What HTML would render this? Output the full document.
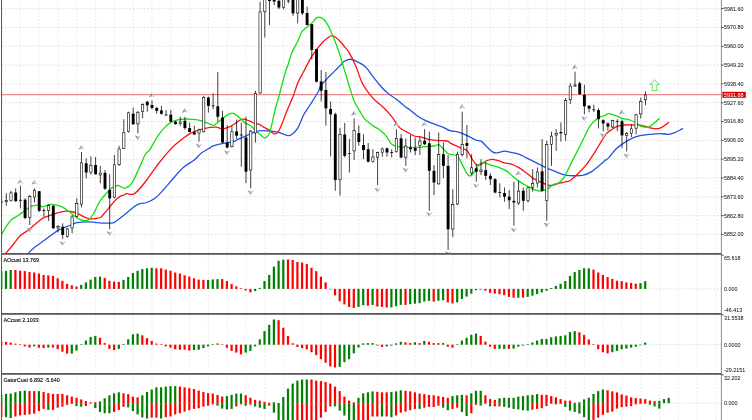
<!DOCTYPE html>
<html><head><meta charset="utf-8"><title>Chart</title>
<style>html,body{margin:0;padding:0;background:#fff;}body{width:752px;height:420px;overflow:hidden;}svg{display:block;}</style>
</head><body>
<svg width="752" height="420" viewBox="0 0 752 420">
<defs><clipPath id="cm2"><rect x="0.9" y="254.5" width="720.3" height="119"/></clipPath></defs>
<g stroke="#d8d8d8" stroke-width="0.7" stroke-dasharray="1.3 2.27" stroke-dashoffset="-0.3" fill="none"><line x1="20.40" y1="1.4" x2="20.40" y2="420"/><line x1="39.20" y1="1.4" x2="39.20" y2="420"/><line x1="58.00" y1="1.4" x2="58.00" y2="420"/><line x1="76.80" y1="1.4" x2="76.80" y2="420"/><line x1="95.60" y1="1.4" x2="95.60" y2="420"/><line x1="114.40" y1="1.4" x2="114.40" y2="420"/><line x1="133.20" y1="1.4" x2="133.20" y2="420"/><line x1="152.00" y1="1.4" x2="152.00" y2="420"/><line x1="170.80" y1="1.4" x2="170.80" y2="420"/><line x1="189.60" y1="1.4" x2="189.60" y2="420"/><line x1="208.40" y1="1.4" x2="208.40" y2="420"/><line x1="227.20" y1="1.4" x2="227.20" y2="420"/><line x1="246.00" y1="1.4" x2="246.00" y2="420"/><line x1="264.80" y1="1.4" x2="264.80" y2="420"/><line x1="283.60" y1="1.4" x2="283.60" y2="420"/><line x1="302.40" y1="1.4" x2="302.40" y2="420"/><line x1="321.20" y1="1.4" x2="321.20" y2="420"/><line x1="340.00" y1="1.4" x2="340.00" y2="420"/><line x1="358.80" y1="1.4" x2="358.80" y2="420"/><line x1="377.60" y1="1.4" x2="377.60" y2="420"/><line x1="396.40" y1="1.4" x2="396.40" y2="420"/><line x1="415.20" y1="1.4" x2="415.20" y2="420"/><line x1="434.00" y1="1.4" x2="434.00" y2="420"/><line x1="452.80" y1="1.4" x2="452.80" y2="420"/><line x1="471.60" y1="1.4" x2="471.60" y2="420"/><line x1="490.40" y1="1.4" x2="490.40" y2="420"/><line x1="509.20" y1="1.4" x2="509.20" y2="420"/><line x1="528.00" y1="1.4" x2="528.00" y2="420"/><line x1="546.80" y1="1.4" x2="546.80" y2="420"/><line x1="565.60" y1="1.4" x2="565.60" y2="420"/><line x1="584.40" y1="1.4" x2="584.40" y2="420"/><line x1="603.20" y1="1.4" x2="603.20" y2="420"/><line x1="622.00" y1="1.4" x2="622.00" y2="420"/><line x1="640.80" y1="1.4" x2="640.80" y2="420"/><line x1="659.60" y1="1.4" x2="659.60" y2="420"/><line x1="678.40" y1="1.4" x2="678.40" y2="420"/><line x1="697.20" y1="1.4" x2="697.20" y2="420"/><line x1="716.00" y1="1.4" x2="716.00" y2="420"/></g>
<g stroke="#d8d8d8" stroke-width="0.7" stroke-dasharray="2.1 1.46" fill="none"><line x1="1" y1="8.65" x2="721.4" y2="8.65"/><line x1="1" y1="27.47" x2="721.4" y2="27.47"/><line x1="1" y1="46.28" x2="721.4" y2="46.28"/><line x1="1" y1="65.10" x2="721.4" y2="65.10"/><line x1="1" y1="83.91" x2="721.4" y2="83.91"/><line x1="1" y1="102.73" x2="721.4" y2="102.73"/><line x1="1" y1="121.54" x2="721.4" y2="121.54"/><line x1="1" y1="140.36" x2="721.4" y2="140.36"/><line x1="1" y1="159.17" x2="721.4" y2="159.17"/><line x1="1" y1="177.99" x2="721.4" y2="177.99"/><line x1="1" y1="196.80" x2="721.4" y2="196.80"/><line x1="1" y1="215.62" x2="721.4" y2="215.62"/><line x1="1" y1="234.43" x2="721.4" y2="234.43"/><line x1="1" y1="288.90" x2="721.4" y2="288.90"/><line x1="1" y1="344.70" x2="721.4" y2="344.70"/><line x1="1" y1="403.20" x2="721.4" y2="403.20"/></g>
<defs><clipPath id="cm"><rect x="1.8" y="0" width="719.4" height="253"/></clipPath><clipPath id="cg"><rect x="0.9" y="374.3" width="720.3" height="50"/></clipPath></defs>
<g clip-path="url(#cm)">
<line x1="2" y1="94.7" x2="721.4" y2="94.7" stroke="#e63c3c" stroke-width="0.75"/>
<path d="M28.50,253.00 C29.58,252.00 32.28,249.17 35.00,247.00 C37.72,244.83 41.98,242.07 44.80,240.00 C47.62,237.93 49.53,236.28 51.90,234.60 C54.27,232.92 56.62,231.18 59.00,229.90 C61.38,228.62 64.02,227.80 66.20,226.90 C68.38,226.00 70.32,225.20 72.10,224.50 C73.88,223.80 74.32,223.13 76.90,222.70 C79.48,222.27 84.58,221.97 87.60,221.90 C90.62,221.83 92.70,222.10 95.00,222.30 C97.30,222.50 98.90,222.97 101.40,223.10 C103.90,223.23 107.85,223.23 110.00,223.10 C112.15,222.97 112.70,223.05 114.30,222.30 C115.90,221.55 117.82,219.93 119.60,218.60 C121.38,217.27 123.27,215.73 125.00,214.30 C126.73,212.87 127.78,211.68 130.00,210.00 C132.22,208.32 135.52,205.45 138.30,204.20 C141.08,202.95 143.92,203.48 146.70,202.50 C149.48,201.52 152.23,200.38 155.00,198.30 C157.77,196.22 160.25,193.33 163.30,190.00 C166.35,186.67 169.97,182.05 173.30,178.30 C176.63,174.55 179.80,170.55 183.30,167.50 C186.80,164.45 191.28,162.43 194.30,160.00 C197.32,157.57 198.78,154.92 201.40,152.90 C204.02,150.88 208.02,149.08 210.00,147.90 C211.98,146.72 211.08,146.57 213.30,145.80 C215.52,145.03 219.97,143.98 223.30,143.30 C226.63,142.62 230.80,142.38 233.30,141.70 C235.80,141.02 236.35,140.08 238.30,139.20 C240.25,138.32 242.93,137.33 245.00,136.40 C247.07,135.47 248.80,134.43 250.70,133.60 C252.60,132.77 254.50,131.88 256.40,131.40 C258.30,130.92 259.95,130.77 262.10,130.70 C264.25,130.63 266.92,130.80 269.30,131.00 C271.68,131.20 274.27,131.47 276.40,131.90 C278.53,132.33 280.18,132.97 282.10,133.60 C284.02,134.23 286.23,135.58 287.90,135.70 C289.57,135.82 290.43,135.60 292.10,134.30 C293.77,133.00 295.98,131.12 297.90,127.90 C299.82,124.68 301.58,118.82 303.60,115.00 C305.62,111.18 307.55,108.88 310.00,105.00 C312.45,101.12 316.63,94.68 318.30,91.70 C319.97,88.72 318.53,89.28 320.00,87.10 C321.47,84.92 324.72,81.22 327.10,78.60 C329.48,75.98 331.92,73.78 334.30,71.40 C336.68,69.02 339.78,65.95 341.40,64.30 C343.02,62.65 342.68,62.33 344.00,61.50 C345.32,60.67 347.63,59.52 349.30,59.30 C350.97,59.08 351.38,59.02 354.00,60.20 C356.62,61.38 362.22,64.17 365.00,66.40 C367.78,68.63 368.55,70.85 370.70,73.60 C372.85,76.35 375.28,79.82 377.90,82.90 C380.52,85.98 383.32,89.37 386.40,92.10 C389.48,94.83 393.30,96.92 396.40,99.30 C399.50,101.68 402.73,104.62 405.00,106.40 C407.27,108.18 407.98,108.45 410.00,110.00 C412.02,111.55 414.48,113.92 417.10,115.70 C419.72,117.48 423.07,119.38 425.70,120.70 C428.33,122.02 430.03,122.53 432.90,123.60 C435.77,124.67 440.05,125.92 442.90,127.10 C445.75,128.28 447.38,129.87 450.00,130.70 C452.62,131.53 455.75,131.27 458.60,132.10 C461.45,132.93 464.25,134.38 467.10,135.70 C469.95,137.02 473.32,139.05 475.70,140.00 C478.08,140.95 479.50,140.22 481.40,141.40 C483.30,142.58 485.18,145.32 487.10,147.10 C489.02,148.88 491.23,151.13 492.90,152.10 C494.57,153.07 495.20,153.07 497.10,152.90 C499.00,152.73 502.15,151.23 504.30,151.10 C506.45,150.97 508.70,151.85 510.00,152.10 C511.30,152.35 510.55,152.23 512.10,152.60 C513.65,152.97 516.92,153.42 519.30,154.30 C521.68,155.18 524.02,156.72 526.40,157.90 C528.78,159.08 531.22,160.22 533.60,161.40 C535.98,162.58 538.32,163.80 540.70,165.00 C543.08,166.20 545.52,167.53 547.90,168.60 C550.28,169.67 552.55,170.43 555.00,171.40 C557.45,172.37 560.07,173.68 562.60,174.40 C565.13,175.12 566.70,175.58 570.20,175.70 C573.70,175.82 580.10,175.73 583.60,175.10 C587.10,174.47 588.35,173.70 591.20,171.90 C594.05,170.10 598.40,166.20 600.70,164.30 C603.00,162.40 603.68,161.57 605.00,160.50 C606.32,159.43 606.82,159.77 608.60,157.90 C610.38,156.03 613.32,151.68 615.70,149.30 C618.08,146.92 620.28,145.38 622.90,143.60 C625.52,141.82 628.55,139.92 631.40,138.60 C634.25,137.28 636.90,136.42 640.00,135.70 C643.10,134.98 646.67,134.65 650.00,134.30 C653.33,133.95 656.90,133.60 660.00,133.60 C663.10,133.60 666.22,134.42 668.60,134.30 C670.98,134.18 672.40,133.62 674.30,132.90 C676.20,132.18 678.63,130.70 680.00,130.00 C681.37,129.30 682.08,128.92 682.50,128.70" fill="none" stroke="#1f55e0" stroke-width="1.3" stroke-linejoin="round" stroke-linecap="round"/>
<path d="M6.00,253.00 C7.00,251.83 9.67,248.83 12.00,246.00 C14.33,243.17 17.23,238.67 20.00,236.00 C22.77,233.33 26.38,231.70 28.60,230.00 C30.82,228.30 31.72,227.18 33.30,225.80 C34.88,224.42 36.50,222.98 38.10,221.70 C39.70,220.42 41.32,219.00 42.90,218.10 C44.48,217.20 45.70,217.02 47.60,216.30 C49.50,215.58 52.00,214.55 54.30,213.80 C56.60,213.05 59.22,212.23 61.40,211.80 C63.58,211.37 65.42,211.17 67.40,211.20 C69.38,211.23 71.32,211.47 73.30,212.00 C75.28,212.53 77.32,213.50 79.30,214.40 C81.28,215.30 83.42,216.67 85.20,217.40 C86.98,218.13 88.37,218.60 90.00,218.80 C91.63,219.00 93.27,218.82 95.00,218.60 C96.73,218.38 98.97,218.22 100.40,217.50 C101.83,216.78 102.18,215.90 103.60,214.30 C105.02,212.70 107.12,210.05 108.90,207.90 C110.68,205.75 112.52,203.28 114.30,201.40 C116.08,199.52 117.98,197.67 119.60,196.60 C121.22,195.53 122.82,195.48 124.00,195.00 C125.18,194.52 125.15,193.83 126.70,193.70 C128.25,193.57 131.08,195.10 133.30,194.20 C135.52,193.30 137.77,190.67 140.00,188.30 C142.23,185.93 144.20,183.33 146.70,180.00 C149.20,176.67 152.55,171.63 155.00,168.30 C157.45,164.97 159.13,162.82 161.40,160.00 C163.67,157.18 166.22,154.02 168.60,151.40 C170.98,148.78 173.32,146.43 175.70,144.30 C178.08,142.17 180.52,140.38 182.90,138.60 C185.28,136.82 187.63,134.92 190.00,133.60 C192.37,132.28 194.72,131.53 197.10,130.70 C199.48,129.87 202.15,129.15 204.30,128.60 C206.45,128.05 208.05,127.65 210.00,127.40 C211.95,127.15 213.93,126.87 216.00,127.10 C218.07,127.33 220.25,128.80 222.40,128.80 C224.55,128.80 226.75,128.00 228.90,127.10 C231.05,126.20 233.52,124.55 235.30,123.40 C237.08,122.25 238.35,120.92 239.60,120.20 C240.85,119.48 241.90,119.25 242.80,119.10 C243.70,118.95 243.68,118.92 245.00,119.30 C246.32,119.68 249.03,120.68 250.70,121.40 C252.37,122.12 253.57,123.12 255.00,123.60 C256.43,124.08 257.87,123.72 259.30,124.30 C260.73,124.88 261.93,126.15 263.60,127.10 C265.27,128.05 267.63,128.92 269.30,130.00 C270.97,131.08 272.17,133.20 273.60,133.60 C275.03,134.00 276.48,134.07 277.90,132.40 C279.32,130.73 280.68,126.98 282.10,123.60 C283.52,120.22 284.97,115.68 286.40,112.10 C287.83,108.52 289.50,104.95 290.70,102.10 C291.90,99.25 292.33,98.40 293.60,95.00 C294.87,91.60 296.57,85.70 298.30,81.70 C300.03,77.70 301.77,75.17 304.00,71.00 C306.23,66.83 308.75,61.32 311.70,56.70 C314.65,52.08 318.93,46.50 321.70,43.30 C324.47,40.10 326.37,38.75 328.30,37.50 C330.23,36.25 331.48,35.30 333.30,35.80 C335.12,36.30 337.42,38.80 339.20,40.50 C340.98,42.20 342.32,43.95 344.00,46.00 C345.68,48.05 347.35,49.52 349.30,52.80 C351.25,56.08 353.57,60.70 355.70,65.70 C357.83,70.70 359.60,77.80 362.10,82.80 C364.60,87.80 368.20,92.48 370.70,95.70 C373.20,98.92 374.97,100.13 377.10,102.10 C379.23,104.07 381.00,105.00 383.50,107.50 C386.00,110.00 389.35,113.70 392.10,117.10 C394.85,120.50 397.50,125.40 400.00,127.90 C402.50,130.40 404.72,130.75 407.10,132.10 C409.48,133.45 411.92,135.17 414.30,136.00 C416.68,136.83 419.02,136.55 421.40,137.10 C423.78,137.65 426.22,138.77 428.60,139.30 C430.98,139.83 433.32,140.07 435.70,140.30 C438.08,140.53 440.75,140.52 442.90,140.70 C445.05,140.88 447.42,141.03 448.60,141.40 C449.78,141.77 448.82,142.18 450.00,142.90 C451.18,143.62 453.80,144.80 455.70,145.70 C457.60,146.60 459.50,147.47 461.40,148.30 C463.30,149.13 465.43,149.10 467.10,150.70 C468.77,152.30 469.97,155.68 471.40,157.90 C472.83,160.12 474.27,162.82 475.70,164.00 C477.13,165.18 478.57,165.32 480.00,165.00 C481.43,164.68 482.87,162.93 484.30,162.10 C485.73,161.27 487.17,160.47 488.60,160.00 C490.03,159.53 491.23,159.18 492.90,159.30 C494.57,159.42 496.70,160.10 498.60,160.70 C500.50,161.30 502.05,162.30 504.30,162.90 C506.55,163.50 509.60,163.47 512.10,164.30 C514.60,165.13 516.92,166.47 519.30,167.90 C521.68,169.33 524.02,171.12 526.40,172.90 C528.78,174.68 531.22,177.07 533.60,178.60 C535.98,180.13 538.32,181.03 540.70,182.10 C543.08,183.17 546.00,184.45 547.90,185.00 C549.80,185.55 550.43,185.63 552.10,185.40 C553.77,185.17 556.00,184.12 557.90,183.60 C559.80,183.08 561.45,182.82 563.50,182.30 C565.55,181.78 567.80,181.92 570.20,180.50 C572.60,179.08 575.03,176.67 577.90,173.80 C580.77,170.93 584.55,166.95 587.40,163.30 C590.25,159.65 592.78,155.38 595.00,151.90 C597.22,148.42 599.03,145.10 600.70,142.40 C602.37,139.70 603.93,137.28 605.00,135.70 C606.07,134.12 605.08,134.45 607.10,132.90 C609.12,131.35 614.00,127.72 617.10,126.40 C620.20,125.08 622.37,125.23 625.70,125.00 C629.03,124.77 634.00,124.82 637.10,125.00 C640.20,125.18 641.92,125.58 644.30,126.10 C646.68,126.62 649.02,127.68 651.40,128.10 C653.78,128.52 656.45,129.00 658.60,128.60 C660.75,128.20 662.63,126.73 664.30,125.70 C665.97,124.67 667.88,122.95 668.60,122.40" fill="none" stroke="#ff1010" stroke-width="1.3" stroke-linejoin="round" stroke-linecap="round"/>
<path d="M0.00,237.00 C0.70,235.83 3.02,231.97 4.20,230.00 C5.38,228.03 5.82,226.98 7.10,225.20 C8.38,223.42 10.10,220.88 11.90,219.30 C13.70,217.72 15.92,217.00 17.90,215.70 C19.88,214.40 22.02,212.78 23.80,211.50 C25.58,210.22 27.02,208.98 28.60,208.00 C30.18,207.02 31.72,206.07 33.30,205.60 C34.88,205.13 36.50,205.00 38.10,205.20 C39.70,205.40 41.52,206.73 42.90,206.80 C44.28,206.87 45.22,206.00 46.40,205.60 C47.58,205.20 48.48,204.52 50.00,204.40 C51.52,204.28 53.60,204.52 55.50,204.90 C57.40,205.28 59.42,205.82 61.40,206.70 C63.38,207.58 65.42,208.82 67.40,210.20 C69.38,211.58 71.32,213.50 73.30,215.00 C75.28,216.50 77.32,218.25 79.30,219.20 C81.28,220.15 83.42,220.80 85.20,220.70 C86.98,220.60 88.40,220.15 90.00,218.60 C91.60,217.05 93.22,214.18 94.80,211.40 C96.38,208.62 97.80,204.63 99.50,201.90 C101.20,199.17 102.97,197.32 105.00,195.00 C107.03,192.68 109.62,189.58 111.70,188.00 C113.78,186.42 116.12,185.78 117.50,185.50 C118.88,185.22 118.75,185.83 120.00,186.30 C121.25,186.77 123.05,188.80 125.00,188.30 C126.95,187.80 129.48,186.35 131.70,183.30 C133.92,180.25 136.08,174.72 138.30,170.00 C140.52,165.28 143.05,158.45 145.00,155.00 C146.95,151.55 147.98,152.28 150.00,149.30 C152.02,146.32 154.72,140.67 157.10,137.10 C159.48,133.53 161.92,130.40 164.30,127.90 C166.68,125.40 169.02,123.47 171.40,122.10 C173.78,120.73 176.22,120.22 178.60,119.70 C180.98,119.18 183.32,119.07 185.70,119.00 C188.08,118.93 190.52,119.08 192.90,119.30 C195.28,119.52 197.63,119.70 200.00,120.30 C202.37,120.90 204.88,122.07 207.10,122.90 C209.32,123.73 211.82,125.13 213.30,125.30 C214.78,125.47 214.65,124.85 216.00,123.90 C217.35,122.95 219.62,121.02 221.40,119.60 C223.18,118.18 224.92,116.47 226.70,115.40 C228.48,114.33 230.32,113.12 232.10,113.20 C233.88,113.28 235.80,114.83 237.40,115.90 C239.00,116.97 240.43,118.43 241.70,119.60 C242.97,120.77 243.50,121.88 245.00,122.90 C246.50,123.92 248.80,124.28 250.70,125.70 C252.60,127.12 254.73,129.85 256.40,131.40 C258.07,132.95 259.60,134.03 260.70,135.00 C261.80,135.97 262.40,136.72 263.00,137.20 C263.60,137.68 263.83,137.87 264.30,137.90 C264.77,137.93 265.08,137.88 265.80,137.40 C266.52,136.92 267.78,136.35 268.60,135.00 C269.42,133.65 269.87,132.40 270.70,129.30 C271.53,126.20 272.65,120.45 273.60,116.40 C274.55,112.35 275.45,108.57 276.40,105.00 C277.35,101.43 277.87,100.28 279.30,95.00 C280.73,89.72 283.55,78.30 285.00,73.30 C286.45,68.30 286.88,68.33 288.00,65.00 C289.12,61.67 289.98,57.47 291.70,53.30 C293.42,49.13 296.63,43.55 298.30,40.00 C299.97,36.45 300.18,34.22 301.70,32.00 C303.22,29.78 305.67,28.22 307.40,26.70 C309.13,25.18 310.52,24.42 312.10,22.90 C313.68,21.38 315.42,18.48 316.90,17.60 C318.38,16.72 319.52,16.92 321.00,17.60 C322.48,18.28 324.02,19.08 325.80,21.70 C327.58,24.32 329.62,28.58 331.70,33.30 C333.78,38.02 336.68,45.55 338.30,50.00 C339.92,54.45 340.17,55.95 341.40,60.00 C342.63,64.05 344.27,69.53 345.70,74.30 C347.13,79.07 348.57,84.08 350.00,88.60 C351.43,93.12 352.63,97.60 354.30,101.40 C355.97,105.20 358.33,108.53 360.00,111.40 C361.67,114.27 362.75,116.68 364.30,118.60 C365.85,120.52 367.52,121.48 369.30,122.90 C371.08,124.32 373.22,125.92 375.00,127.10 C376.78,128.28 378.05,128.40 380.00,130.00 C381.95,131.60 384.75,134.33 386.70,136.70 C388.65,139.07 389.48,142.50 391.70,144.20 C393.92,145.90 397.43,146.37 400.00,146.90 C402.57,147.43 404.72,147.32 407.10,147.40 C409.48,147.48 411.92,147.45 414.30,147.40 C416.68,147.35 419.02,147.27 421.40,147.10 C423.78,146.93 426.45,146.58 428.60,146.40 C430.75,146.22 432.63,146.30 434.30,146.00 C435.97,145.70 437.17,144.17 438.60,144.60 C440.03,145.03 441.48,147.22 442.90,148.60 C444.32,149.98 445.92,151.95 447.10,152.90 C448.28,153.85 448.33,153.83 450.00,154.30 C451.67,154.77 455.20,154.27 457.10,155.70 C459.00,157.13 459.97,160.28 461.40,162.90 C462.83,165.52 464.50,169.32 465.70,171.40 C466.90,173.48 467.65,174.73 468.60,175.40 C469.55,176.07 470.33,176.18 471.40,175.40 C472.47,174.62 473.80,172.43 475.00,170.70 C476.20,168.97 477.28,166.35 478.60,165.00 C479.92,163.65 481.48,162.83 482.90,162.60 C484.32,162.37 485.43,163.08 487.10,163.60 C488.77,164.12 490.75,164.98 492.90,165.70 C495.05,166.42 497.63,166.95 500.00,167.90 C502.37,168.85 505.08,170.10 507.10,171.40 C509.12,172.70 510.07,174.03 512.10,175.70 C514.13,177.37 516.92,179.73 519.30,181.40 C521.68,183.07 524.02,184.38 526.40,185.70 C528.78,187.02 531.22,188.40 533.60,189.30 C535.98,190.20 538.32,191.22 540.70,191.10 C543.08,190.98 545.75,189.73 547.90,188.60 C550.05,187.47 551.70,185.30 553.60,184.30 C555.50,183.30 557.48,183.87 559.30,182.60 C561.12,181.33 562.83,179.28 564.50,176.70 C566.17,174.12 567.72,170.28 569.30,167.10 C570.88,163.92 572.25,161.08 574.00,157.60 C575.75,154.12 578.05,149.68 579.80,146.20 C581.55,142.72 582.92,139.88 584.50,136.70 C586.08,133.52 587.55,129.80 589.30,127.10 C591.05,124.40 593.10,122.23 595.00,120.50 C596.90,118.77 599.03,117.57 600.70,116.70 C602.37,115.83 603.68,115.82 605.00,115.30 C606.32,114.78 606.82,113.53 608.60,113.60 C610.38,113.67 613.32,114.87 615.70,115.70 C618.08,116.53 620.52,117.88 622.90,118.60 C625.28,119.32 627.63,119.17 630.00,120.00 C632.37,120.83 635.20,122.53 637.10,123.60 C639.00,124.67 639.48,125.82 641.40,126.40 C643.32,126.98 646.45,127.68 648.60,127.10 C650.75,126.52 652.52,124.32 654.30,122.90 C656.08,121.48 658.47,119.32 659.30,118.60" fill="none" stroke="#10e010" stroke-width="1.3" stroke-linejoin="round" stroke-linecap="round"/>
<line x1="1.60" y1="199.0" x2="1.60" y2="206.0" stroke="#000" stroke-width="0.75"/><line x1="0.15" y1="202.0" x2="3.05" y2="202.0" stroke="#000" stroke-width="0.8"/><line x1="6.30" y1="193.3" x2="6.30" y2="205.8" stroke="#000" stroke-width="0.75"/><rect x="5.15" y="200.30" width="2.30" height="1.40" fill="#fff" stroke="#000" stroke-width="0.6"/><line x1="11.00" y1="190.8" x2="11.00" y2="201.5" stroke="#000" stroke-width="0.75"/><rect x="9.85" y="192.80" width="2.30" height="7.70" fill="#fff" stroke="#000" stroke-width="0.6"/><line x1="15.70" y1="188.3" x2="15.70" y2="201.7" stroke="#000" stroke-width="0.75"/><rect x="14.25" y="192.5" width="2.9" height="8.80" fill="#000"/><line x1="20.40" y1="185.8" x2="20.40" y2="208.3" stroke="#000" stroke-width="0.75"/><line x1="18.95" y1="200.3" x2="21.85" y2="200.3" stroke="#000" stroke-width="0.8"/><line x1="25.10" y1="198.3" x2="25.10" y2="219.2" stroke="#000" stroke-width="0.75"/><rect x="23.65" y="199.7" width="2.9" height="18.30" fill="#000"/><line x1="29.80" y1="195.0" x2="29.80" y2="225.0" stroke="#000" stroke-width="0.75"/><rect x="28.65" y="196.60" width="2.30" height="20.60" fill="#fff" stroke="#000" stroke-width="0.6"/><line x1="34.50" y1="188.3" x2="34.50" y2="202.5" stroke="#000" stroke-width="0.75"/><rect x="33.35" y="190.30" width="2.30" height="6.90" fill="#fff" stroke="#000" stroke-width="0.6"/><line x1="39.20" y1="190.8" x2="39.20" y2="212.0" stroke="#000" stroke-width="0.75"/><rect x="37.75" y="191.2" width="2.9" height="19.60" fill="#000"/><line x1="43.90" y1="208.3" x2="43.90" y2="216.7" stroke="#000" stroke-width="0.75"/><line x1="42.45" y1="210.5" x2="45.35" y2="210.5" stroke="#000" stroke-width="0.8"/><line x1="48.60" y1="204.2" x2="48.60" y2="220.8" stroke="#000" stroke-width="0.75"/><rect x="47.45" y="205.30" width="2.30" height="5.20" fill="#fff" stroke="#000" stroke-width="0.6"/><line x1="53.30" y1="205.0" x2="53.30" y2="228.7" stroke="#000" stroke-width="0.75"/><rect x="51.85" y="205.8" width="2.9" height="22.50" fill="#000"/><line x1="58.00" y1="225.0" x2="58.00" y2="232.5" stroke="#000" stroke-width="0.75"/><rect x="56.85" y="226.60" width="2.30" height="1.40" fill="#fff" stroke="#000" stroke-width="0.6"/><line x1="62.70" y1="223.3" x2="62.70" y2="239.2" stroke="#000" stroke-width="0.75"/><rect x="61.25" y="226.7" width="2.9" height="8.30" fill="#000"/><line x1="67.40" y1="228.0" x2="67.40" y2="237.5" stroke="#000" stroke-width="0.75"/><rect x="66.25" y="229.00" width="2.30" height="7.40" fill="#fff" stroke="#000" stroke-width="0.6"/><line x1="72.10" y1="215.0" x2="72.10" y2="233.3" stroke="#000" stroke-width="0.75"/><rect x="70.95" y="217.00" width="2.30" height="11.00" fill="#fff" stroke="#000" stroke-width="0.6"/><line x1="76.80" y1="198.3" x2="76.80" y2="217.5" stroke="#000" stroke-width="0.75"/><rect x="75.65" y="203.60" width="2.30" height="12.60" fill="#fff" stroke="#000" stroke-width="0.6"/><line x1="81.50" y1="152.0" x2="81.50" y2="207.5" stroke="#000" stroke-width="0.75"/><rect x="80.35" y="162.80" width="2.30" height="41.40" fill="#fff" stroke="#000" stroke-width="0.6"/><line x1="86.20" y1="158.3" x2="86.20" y2="178.3" stroke="#000" stroke-width="0.75"/><rect x="84.75" y="163.3" width="2.9" height="9.20" fill="#000"/><line x1="90.90" y1="156.3" x2="90.90" y2="174.7" stroke="#000" stroke-width="0.75"/><rect x="89.75" y="165.60" width="2.30" height="6.60" fill="#fff" stroke="#000" stroke-width="0.6"/><line x1="95.60" y1="157.0" x2="95.60" y2="174.7" stroke="#000" stroke-width="0.75"/><rect x="94.15" y="165.0" width="2.9" height="9.20" fill="#000"/><line x1="100.30" y1="165.8" x2="100.30" y2="183.3" stroke="#000" stroke-width="0.75"/><rect x="99.15" y="173.10" width="2.30" height="1.90" fill="#fff" stroke="#000" stroke-width="0.6"/><line x1="105.00" y1="170.0" x2="105.00" y2="190.0" stroke="#000" stroke-width="0.75"/><rect x="103.55" y="172.8" width="2.9" height="15.90" fill="#000"/><line x1="109.70" y1="174.2" x2="109.70" y2="229.2" stroke="#000" stroke-width="0.75"/><rect x="108.25" y="190.0" width="2.9" height="8.30" fill="#000"/><line x1="114.40" y1="155.0" x2="114.40" y2="198.3" stroke="#000" stroke-width="0.75"/><rect x="113.25" y="164.80" width="2.30" height="32.40" fill="#fff" stroke="#000" stroke-width="0.6"/><line x1="119.10" y1="145.8" x2="119.10" y2="166.0" stroke="#000" stroke-width="0.75"/><rect x="117.95" y="149.00" width="2.30" height="15.70" fill="#fff" stroke="#000" stroke-width="0.6"/><line x1="123.80" y1="119.2" x2="123.80" y2="149.0" stroke="#000" stroke-width="0.75"/><rect x="122.65" y="132.80" width="2.30" height="15.60" fill="#fff" stroke="#000" stroke-width="0.6"/><line x1="128.50" y1="111.7" x2="128.50" y2="132.5" stroke="#000" stroke-width="0.75"/><rect x="127.35" y="112.80" width="2.30" height="18.60" fill="#fff" stroke="#000" stroke-width="0.6"/><line x1="133.20" y1="107.5" x2="133.20" y2="125.0" stroke="#000" stroke-width="0.75"/><rect x="131.75" y="113.7" width="2.9" height="10.50" fill="#000"/><line x1="137.90" y1="110.8" x2="137.90" y2="133.3" stroke="#000" stroke-width="0.75"/><rect x="136.75" y="112.30" width="2.30" height="11.60" fill="#fff" stroke="#000" stroke-width="0.6"/><line x1="142.60" y1="103.3" x2="142.60" y2="118.3" stroke="#000" stroke-width="0.75"/><rect x="141.45" y="104.50" width="2.30" height="6.90" fill="#fff" stroke="#000" stroke-width="0.6"/><line x1="147.30" y1="100.8" x2="147.30" y2="111.7" stroke="#000" stroke-width="0.75"/><rect x="145.85" y="101.7" width="2.9" height="3.60" fill="#000"/><line x1="152.00" y1="100.3" x2="152.00" y2="109.2" stroke="#000" stroke-width="0.75"/><rect x="150.55" y="105.0" width="2.9" height="3.00" fill="#000"/><line x1="156.70" y1="106.7" x2="156.70" y2="113.7" stroke="#000" stroke-width="0.75"/><rect x="155.25" y="108.0" width="2.9" height="2.80" fill="#000"/><line x1="161.40" y1="105.8" x2="161.40" y2="114.7" stroke="#000" stroke-width="0.75"/><rect x="159.95" y="110.5" width="2.9" height="3.20" fill="#000"/><line x1="166.10" y1="110.0" x2="166.10" y2="115.8" stroke="#000" stroke-width="0.75"/><line x1="164.65" y1="115.0" x2="167.55" y2="115.0" stroke="#000" stroke-width="0.8"/><line x1="170.80" y1="110.0" x2="170.80" y2="122.0" stroke="#000" stroke-width="0.75"/><rect x="169.35" y="114.7" width="2.9" height="7.00" fill="#000"/><line x1="175.50" y1="120.8" x2="175.50" y2="124.7" stroke="#000" stroke-width="0.75"/><rect x="174.05" y="121.7" width="2.9" height="2.50" fill="#000"/><line x1="180.20" y1="116.7" x2="180.20" y2="125.8" stroke="#000" stroke-width="0.75"/><rect x="179.05" y="122.00" width="2.30" height="1.40" fill="#fff" stroke="#000" stroke-width="0.6"/><line x1="184.90" y1="116.7" x2="184.90" y2="129.7" stroke="#000" stroke-width="0.75"/><rect x="183.45" y="120.8" width="2.9" height="7.20" fill="#000"/><line x1="189.60" y1="122.5" x2="189.60" y2="132.5" stroke="#000" stroke-width="0.75"/><rect x="188.15" y="128.0" width="2.9" height="4.00" fill="#000"/><line x1="194.30" y1="125.8" x2="194.30" y2="135.0" stroke="#000" stroke-width="0.75"/><rect x="192.85" y="132.2" width="2.9" height="2.30" fill="#000"/><line x1="199.00" y1="128.7" x2="199.00" y2="141.7" stroke="#000" stroke-width="0.75"/><rect x="197.85" y="130.00" width="2.30" height="3.00" fill="#fff" stroke="#000" stroke-width="0.6"/><line x1="203.70" y1="95.8" x2="203.70" y2="132.5" stroke="#000" stroke-width="0.75"/><rect x="202.55" y="97.30" width="2.30" height="34.10" fill="#fff" stroke="#000" stroke-width="0.6"/><line x1="208.40" y1="96.5" x2="208.40" y2="112.5" stroke="#000" stroke-width="0.75"/><rect x="206.95" y="97.5" width="2.9" height="8.30" fill="#000"/><line x1="213.10" y1="93.3" x2="213.10" y2="109.2" stroke="#000" stroke-width="0.75"/><line x1="211.65" y1="105.8" x2="214.55" y2="105.8" stroke="#000" stroke-width="0.8"/><line x1="217.80" y1="72.0" x2="217.80" y2="121.7" stroke="#000" stroke-width="0.75"/><rect x="216.35" y="106.3" width="2.9" height="10.40" fill="#000"/><line x1="222.50" y1="110.8" x2="222.50" y2="143.3" stroke="#000" stroke-width="0.75"/><rect x="221.05" y="117.5" width="2.9" height="25.00" fill="#000"/><line x1="227.20" y1="125.0" x2="227.20" y2="148.3" stroke="#000" stroke-width="0.75"/><rect x="225.75" y="142.5" width="2.9" height="5.00" fill="#000"/><line x1="231.90" y1="126.0" x2="231.90" y2="147.5" stroke="#000" stroke-width="0.75"/><rect x="230.75" y="131.70" width="2.30" height="15.00" fill="#fff" stroke="#000" stroke-width="0.6"/><line x1="236.60" y1="119.6" x2="236.60" y2="138.9" stroke="#000" stroke-width="0.75"/><rect x="235.15" y="131.4" width="2.9" height="4.30" fill="#000"/><line x1="241.30" y1="122.5" x2="241.30" y2="166.7" stroke="#000" stroke-width="0.75"/><line x1="239.85" y1="135.0" x2="242.75" y2="135.0" stroke="#000" stroke-width="0.8"/><line x1="246.00" y1="116.7" x2="246.00" y2="183.3" stroke="#000" stroke-width="0.75"/><rect x="244.55" y="137.5" width="2.9" height="34.20" fill="#000"/><line x1="250.70" y1="130.0" x2="250.70" y2="188.3" stroke="#000" stroke-width="0.75"/><rect x="249.55" y="131.10" width="2.30" height="38.90" fill="#fff" stroke="#000" stroke-width="0.6"/><line x1="255.40" y1="90.8" x2="255.40" y2="142.5" stroke="#000" stroke-width="0.75"/><rect x="254.25" y="93.60" width="2.30" height="39.40" fill="#fff" stroke="#000" stroke-width="0.6"/><line x1="260.10" y1="1.7" x2="260.10" y2="93.7" stroke="#000" stroke-width="0.75"/><rect x="258.95" y="12.00" width="2.30" height="81.00" fill="#fff" stroke="#000" stroke-width="0.6"/><line x1="264.80" y1="-5.0" x2="264.80" y2="37.5" stroke="#000" stroke-width="0.75"/><rect x="263.65" y="-2.70" width="2.30" height="14.10" fill="#fff" stroke="#000" stroke-width="0.6"/><line x1="269.50" y1="-5.0" x2="269.50" y2="25.0" stroke="#000" stroke-width="0.75"/><rect x="268.05" y="-3.0" width="2.9" height="4.00" fill="#000"/><line x1="274.20" y1="-5.0" x2="274.20" y2="5.0" stroke="#000" stroke-width="0.75"/><rect x="272.75" y="-3.0" width="2.9" height="4.50" fill="#000"/><line x1="278.90" y1="-5.0" x2="278.90" y2="9.2" stroke="#000" stroke-width="0.75"/><rect x="277.45" y="0.8" width="2.9" height="6.70" fill="#000"/><line x1="283.60" y1="-5.0" x2="283.60" y2="9.2" stroke="#000" stroke-width="0.75"/><rect x="282.45" y="-1.70" width="2.30" height="8.90" fill="#fff" stroke="#000" stroke-width="0.6"/><line x1="288.30" y1="-5.0" x2="288.30" y2="3.3" stroke="#000" stroke-width="0.75"/><line x1="286.85" y1="1.0" x2="289.75" y2="1.0" stroke="#000" stroke-width="0.8"/><line x1="293.00" y1="-5.0" x2="293.00" y2="15.8" stroke="#000" stroke-width="0.75"/><rect x="291.55" y="-2.0" width="2.9" height="15.30" fill="#000"/><line x1="297.70" y1="-5.0" x2="297.70" y2="23.3" stroke="#000" stroke-width="0.75"/><rect x="296.55" y="-1.70" width="2.30" height="14.70" fill="#fff" stroke="#000" stroke-width="0.6"/><line x1="302.40" y1="-5.0" x2="302.40" y2="15.0" stroke="#000" stroke-width="0.75"/><rect x="300.95" y="-2.0" width="2.9" height="15.30" fill="#000"/><line x1="307.10" y1="6.7" x2="307.10" y2="25.0" stroke="#000" stroke-width="0.75"/><rect x="305.65" y="13.0" width="2.9" height="12.00" fill="#000"/><line x1="311.80" y1="24.0" x2="311.80" y2="59.2" stroke="#000" stroke-width="0.75"/><rect x="310.35" y="24.2" width="2.9" height="25.80" fill="#000"/><line x1="316.50" y1="49.0" x2="316.50" y2="82.5" stroke="#000" stroke-width="0.75"/><rect x="315.05" y="49.2" width="2.9" height="32.50" fill="#000"/><line x1="321.20" y1="70.0" x2="321.20" y2="101.4" stroke="#000" stroke-width="0.75"/><rect x="319.75" y="81.4" width="2.9" height="9.30" fill="#000"/><line x1="325.90" y1="72.0" x2="325.90" y2="125.7" stroke="#000" stroke-width="0.75"/><rect x="324.45" y="90.0" width="2.9" height="18.30" fill="#000"/><line x1="330.60" y1="101.4" x2="330.60" y2="156.4" stroke="#000" stroke-width="0.75"/><rect x="329.15" y="108.9" width="2.9" height="5.40" fill="#000"/><line x1="335.30" y1="112.6" x2="335.30" y2="190.8" stroke="#000" stroke-width="0.75"/><rect x="333.85" y="114.2" width="2.9" height="65.80" fill="#000"/><line x1="340.00" y1="127.9" x2="340.00" y2="195.5" stroke="#000" stroke-width="0.75"/><rect x="338.85" y="134.50" width="2.30" height="45.20" fill="#fff" stroke="#000" stroke-width="0.6"/><line x1="344.70" y1="122.9" x2="344.70" y2="157.3" stroke="#000" stroke-width="0.75"/><rect x="343.25" y="134.5" width="2.9" height="21.30" fill="#000"/><line x1="349.40" y1="138.9" x2="349.40" y2="172.5" stroke="#000" stroke-width="0.75"/><line x1="347.95" y1="153.6" x2="350.85" y2="153.6" stroke="#000" stroke-width="0.8"/><line x1="354.10" y1="118.6" x2="354.10" y2="160.0" stroke="#000" stroke-width="0.75"/><rect x="352.95" y="130.60" width="2.30" height="20.30" fill="#fff" stroke="#000" stroke-width="0.6"/><line x1="358.80" y1="125.5" x2="358.80" y2="145.7" stroke="#000" stroke-width="0.75"/><rect x="357.35" y="133.2" width="2.9" height="8.80" fill="#000"/><line x1="363.50" y1="134.2" x2="363.50" y2="159.2" stroke="#000" stroke-width="0.75"/><rect x="362.05" y="145.0" width="2.9" height="5.00" fill="#000"/><line x1="368.20" y1="142.9" x2="368.20" y2="162.5" stroke="#000" stroke-width="0.75"/><rect x="366.75" y="149.2" width="2.9" height="12.50" fill="#000"/><line x1="372.90" y1="149.2" x2="372.90" y2="162.5" stroke="#000" stroke-width="0.75"/><rect x="371.75" y="157.00" width="2.30" height="4.40" fill="#fff" stroke="#000" stroke-width="0.6"/><line x1="377.60" y1="151.7" x2="377.60" y2="185.0" stroke="#000" stroke-width="0.75"/><rect x="376.45" y="152.50" width="2.30" height="4.70" fill="#fff" stroke="#000" stroke-width="0.6"/><line x1="382.30" y1="147.5" x2="382.30" y2="156.7" stroke="#000" stroke-width="0.75"/><rect x="381.15" y="149.00" width="2.30" height="3.20" fill="#fff" stroke="#000" stroke-width="0.6"/><line x1="387.00" y1="147.5" x2="387.00" y2="156.7" stroke="#000" stroke-width="0.75"/><rect x="385.55" y="148.3" width="2.9" height="4.20" fill="#000"/><line x1="391.70" y1="149.2" x2="391.70" y2="157.5" stroke="#000" stroke-width="0.75"/><line x1="390.25" y1="152.5" x2="393.15" y2="152.5" stroke="#000" stroke-width="0.8"/><line x1="396.40" y1="129.2" x2="396.40" y2="152.5" stroke="#000" stroke-width="0.75"/><rect x="395.25" y="138.60" width="2.30" height="12.80" fill="#fff" stroke="#000" stroke-width="0.6"/><line x1="401.10" y1="134.2" x2="401.10" y2="158.3" stroke="#000" stroke-width="0.75"/><rect x="399.65" y="138.3" width="2.9" height="19.20" fill="#000"/><line x1="405.80" y1="138.3" x2="405.80" y2="165.8" stroke="#000" stroke-width="0.75"/><rect x="404.65" y="146.10" width="2.30" height="11.10" fill="#fff" stroke="#000" stroke-width="0.6"/><line x1="410.50" y1="135.0" x2="410.50" y2="152.5" stroke="#000" stroke-width="0.75"/><rect x="409.05" y="147.5" width="2.9" height="1.70" fill="#000"/><line x1="415.20" y1="137.5" x2="415.20" y2="155.0" stroke="#000" stroke-width="0.75"/><rect x="413.75" y="148.0" width="2.9" height="2.80" fill="#000"/><line x1="419.90" y1="136.7" x2="419.90" y2="155.0" stroke="#000" stroke-width="0.75"/><rect x="418.75" y="141.10" width="2.30" height="4.40" fill="#fff" stroke="#000" stroke-width="0.6"/><line x1="424.60" y1="129.2" x2="424.60" y2="145.0" stroke="#000" stroke-width="0.75"/><rect x="423.15" y="140.8" width="2.9" height="3.40" fill="#000"/><line x1="429.30" y1="131.7" x2="429.30" y2="210.7" stroke="#000" stroke-width="0.75"/><rect x="427.85" y="143.3" width="2.9" height="27.50" fill="#000"/><line x1="434.00" y1="165.0" x2="434.00" y2="195.0" stroke="#000" stroke-width="0.75"/><rect x="432.55" y="170.8" width="2.9" height="11.70" fill="#000"/><line x1="438.70" y1="132.5" x2="438.70" y2="184.7" stroke="#000" stroke-width="0.75"/><rect x="437.55" y="154.50" width="2.30" height="29.40" fill="#fff" stroke="#000" stroke-width="0.6"/><line x1="443.40" y1="142.5" x2="443.40" y2="178.3" stroke="#000" stroke-width="0.75"/><rect x="441.95" y="154.2" width="2.9" height="11.60" fill="#000"/><line x1="448.10" y1="155.0" x2="448.10" y2="250.0" stroke="#000" stroke-width="0.75"/><rect x="446.65" y="165.8" width="2.9" height="63.50" fill="#000"/><line x1="452.80" y1="189.2" x2="452.80" y2="237.1" stroke="#000" stroke-width="0.75"/><rect x="451.65" y="204.60" width="2.30" height="24.40" fill="#fff" stroke="#000" stroke-width="0.6"/><line x1="457.50" y1="151.7" x2="457.50" y2="205.0" stroke="#000" stroke-width="0.75"/><rect x="456.35" y="154.50" width="2.30" height="49.50" fill="#fff" stroke="#000" stroke-width="0.6"/><line x1="462.20" y1="111.7" x2="462.20" y2="156.7" stroke="#000" stroke-width="0.75"/><rect x="461.05" y="144.50" width="2.30" height="10.20" fill="#fff" stroke="#000" stroke-width="0.6"/><line x1="466.90" y1="125.0" x2="466.90" y2="158.3" stroke="#000" stroke-width="0.75"/><rect x="465.45" y="143.0" width="2.9" height="2.80" fill="#000"/><line x1="471.60" y1="154.2" x2="471.60" y2="175.0" stroke="#000" stroke-width="0.75"/><rect x="470.45" y="167.80" width="2.30" height="5.20" fill="#fff" stroke="#000" stroke-width="0.6"/><line x1="476.30" y1="164.0" x2="476.30" y2="181.7" stroke="#000" stroke-width="0.75"/><rect x="474.85" y="168.3" width="2.9" height="3.40" fill="#000"/><line x1="481.00" y1="159.2" x2="481.00" y2="175.0" stroke="#000" stroke-width="0.75"/><rect x="479.85" y="170.00" width="2.30" height="1.70" fill="#fff" stroke="#000" stroke-width="0.6"/><line x1="485.70" y1="162.5" x2="485.70" y2="180.0" stroke="#000" stroke-width="0.75"/><rect x="484.25" y="170.3" width="2.9" height="5.50" fill="#000"/><line x1="490.40" y1="173.3" x2="490.40" y2="185.0" stroke="#000" stroke-width="0.75"/><rect x="488.95" y="175.8" width="2.9" height="3.40" fill="#000"/><line x1="495.10" y1="178.0" x2="495.10" y2="193.5" stroke="#000" stroke-width="0.75"/><rect x="493.65" y="179.2" width="2.9" height="13.30" fill="#000"/><line x1="499.80" y1="183.3" x2="499.80" y2="197.5" stroke="#000" stroke-width="0.75"/><line x1="498.35" y1="192.5" x2="501.25" y2="192.5" stroke="#000" stroke-width="0.8"/><line x1="504.50" y1="187.5" x2="504.50" y2="201.7" stroke="#000" stroke-width="0.75"/><rect x="503.05" y="193.0" width="2.9" height="3.70" fill="#000"/><line x1="509.20" y1="190.0" x2="509.20" y2="209.2" stroke="#000" stroke-width="0.75"/><rect x="507.75" y="196.7" width="2.9" height="3.60" fill="#000"/><line x1="513.90" y1="181.7" x2="513.90" y2="225.8" stroke="#000" stroke-width="0.75"/><rect x="512.45" y="200.8" width="2.9" height="1.70" fill="#000"/><line x1="518.60" y1="180.8" x2="518.60" y2="205.0" stroke="#000" stroke-width="0.75"/><rect x="517.45" y="191.10" width="2.30" height="11.90" fill="#fff" stroke="#000" stroke-width="0.6"/><line x1="523.30" y1="187.5" x2="523.30" y2="210.8" stroke="#000" stroke-width="0.75"/><rect x="521.85" y="190.8" width="2.9" height="10.00" fill="#000"/><line x1="528.00" y1="186.7" x2="528.00" y2="202.5" stroke="#000" stroke-width="0.75"/><rect x="526.85" y="187.80" width="2.30" height="12.70" fill="#fff" stroke="#000" stroke-width="0.6"/><line x1="532.70" y1="169.2" x2="532.70" y2="191.7" stroke="#000" stroke-width="0.75"/><rect x="531.55" y="183.60" width="2.30" height="3.60" fill="#fff" stroke="#000" stroke-width="0.6"/><line x1="537.40" y1="167.5" x2="537.40" y2="187.5" stroke="#000" stroke-width="0.75"/><rect x="536.25" y="172.00" width="2.30" height="11.00" fill="#fff" stroke="#000" stroke-width="0.6"/><line x1="542.10" y1="139.2" x2="542.10" y2="191.7" stroke="#000" stroke-width="0.75"/><rect x="540.65" y="171.3" width="2.9" height="19.50" fill="#000"/><line x1="546.80" y1="140.8" x2="546.80" y2="220.8" stroke="#000" stroke-width="0.75"/><rect x="545.65" y="144.50" width="2.30" height="56.00" fill="#fff" stroke="#000" stroke-width="0.6"/><line x1="551.50" y1="131.7" x2="551.50" y2="165.8" stroke="#000" stroke-width="0.75"/><rect x="550.35" y="136.10" width="2.30" height="8.30" fill="#fff" stroke="#000" stroke-width="0.6"/><line x1="556.20" y1="129.2" x2="556.20" y2="150.8" stroke="#000" stroke-width="0.75"/><rect x="555.05" y="133.30" width="2.30" height="1.70" fill="#fff" stroke="#000" stroke-width="0.6"/><line x1="560.90" y1="122.5" x2="560.90" y2="141.7" stroke="#000" stroke-width="0.75"/><rect x="559.45" y="132.0" width="2.9" height="1.30" fill="#000"/><line x1="565.60" y1="98.0" x2="565.60" y2="140.8" stroke="#000" stroke-width="0.75"/><rect x="564.45" y="100.30" width="2.30" height="34.10" fill="#fff" stroke="#000" stroke-width="0.6"/><line x1="570.30" y1="83.3" x2="570.30" y2="104.2" stroke="#000" stroke-width="0.75"/><rect x="569.15" y="86.10" width="2.30" height="13.60" fill="#fff" stroke="#000" stroke-width="0.6"/><line x1="575.00" y1="71.7" x2="575.00" y2="86.7" stroke="#000" stroke-width="0.75"/><rect x="573.85" y="85.00" width="2.30" height="1.00" fill="#fff" stroke="#000" stroke-width="0.6"/><line x1="579.70" y1="81.7" x2="579.70" y2="94.7" stroke="#000" stroke-width="0.75"/><rect x="578.25" y="83.3" width="2.9" height="10.90" fill="#000"/><line x1="584.40" y1="84.7" x2="584.40" y2="114.2" stroke="#000" stroke-width="0.75"/><rect x="582.95" y="95.0" width="2.9" height="11.30" fill="#000"/><line x1="589.10" y1="105.0" x2="589.10" y2="112.3" stroke="#000" stroke-width="0.75"/><rect x="587.65" y="105.8" width="2.9" height="2.80" fill="#000"/><line x1="593.80" y1="104.7" x2="593.80" y2="112.1" stroke="#000" stroke-width="0.75"/><line x1="592.35" y1="109.7" x2="595.25" y2="109.7" stroke="#000" stroke-width="0.8"/><line x1="598.50" y1="108.3" x2="598.50" y2="128.5" stroke="#000" stroke-width="0.75"/><rect x="597.05" y="110.0" width="2.9" height="9.20" fill="#000"/><line x1="603.20" y1="119.2" x2="603.20" y2="131.2" stroke="#000" stroke-width="0.75"/><rect x="601.75" y="120.2" width="2.9" height="3.20" fill="#000"/><line x1="607.90" y1="122.3" x2="607.90" y2="130.7" stroke="#000" stroke-width="0.75"/><rect x="606.45" y="123.4" width="2.9" height="3.20" fill="#000"/><line x1="612.60" y1="119.7" x2="612.60" y2="128.0" stroke="#000" stroke-width="0.75"/><rect x="611.45" y="120.50" width="2.30" height="6.50" fill="#fff" stroke="#000" stroke-width="0.6"/><line x1="617.30" y1="119.2" x2="617.30" y2="131.2" stroke="#000" stroke-width="0.75"/><line x1="615.85" y1="121.5" x2="618.75" y2="121.5" stroke="#000" stroke-width="0.8"/><line x1="622.00" y1="119.5" x2="622.00" y2="147.9" stroke="#000" stroke-width="0.75"/><rect x="620.55" y="121.2" width="2.9" height="14.20" fill="#000"/><line x1="626.70" y1="132.0" x2="626.70" y2="151.4" stroke="#000" stroke-width="0.75"/><rect x="625.55" y="133.30" width="2.30" height="2.20" fill="#fff" stroke="#000" stroke-width="0.6"/><line x1="631.40" y1="124.2" x2="631.40" y2="137.1" stroke="#000" stroke-width="0.75"/><rect x="630.25" y="128.80" width="2.30" height="4.40" fill="#fff" stroke="#000" stroke-width="0.6"/><line x1="636.10" y1="113.8" x2="636.10" y2="134.3" stroke="#000" stroke-width="0.75"/><rect x="634.95" y="114.80" width="2.30" height="13.40" fill="#fff" stroke="#000" stroke-width="0.6"/><line x1="640.80" y1="97.5" x2="640.80" y2="118.5" stroke="#000" stroke-width="0.75"/><rect x="639.65" y="101.60" width="2.30" height="12.30" fill="#fff" stroke="#000" stroke-width="0.6"/><line x1="645.50" y1="91.3" x2="645.50" y2="105.3" stroke="#000" stroke-width="0.75"/><rect x="644.35" y="95.00" width="2.30" height="4.70" fill="#fff" stroke="#000" stroke-width="0.6"/>
<g><path d="M20.40,179.00 L20.40,182.60 L17.20,184.00Z" fill="#8c95a3"/><path d="M20.40,179.00 L20.40,182.60 L23.60,184.00Z" fill="#c3c9d2"/><path d="M29.80,232.70 L29.80,229.10 L26.60,227.70Z" fill="#8c95a3"/><path d="M29.80,232.70 L29.80,229.10 L33.00,227.70Z" fill="#c3c9d2"/><path d="M34.50,179.80 L34.50,183.40 L31.30,184.80Z" fill="#8c95a3"/><path d="M34.50,179.80 L34.50,183.40 L37.70,184.80Z" fill="#c3c9d2"/><path d="M62.70,246.00 L62.70,242.40 L59.50,241.00Z" fill="#8c95a3"/><path d="M62.70,246.00 L62.70,242.40 L65.90,241.00Z" fill="#c3c9d2"/><path d="M81.50,144.80 L81.50,148.40 L78.30,149.80Z" fill="#8c95a3"/><path d="M81.50,144.80 L81.50,148.40 L84.70,149.80Z" fill="#c3c9d2"/><path d="M109.70,236.00 L109.70,232.40 L106.50,231.00Z" fill="#8c95a3"/><path d="M109.70,236.00 L109.70,232.40 L112.90,231.00Z" fill="#c3c9d2"/><path d="M137.90,140.20 L137.90,136.60 L134.70,135.20Z" fill="#8c95a3"/><path d="M137.90,140.20 L137.90,136.60 L141.10,135.20Z" fill="#c3c9d2"/><path d="M152.00,92.60 L152.00,96.20 L148.80,97.60Z" fill="#8c95a3"/><path d="M152.00,92.60 L152.00,96.20 L155.20,97.60Z" fill="#c3c9d2"/><path d="M184.90,108.10 L184.90,111.70 L181.70,113.10Z" fill="#8c95a3"/><path d="M184.90,108.10 L184.90,111.70 L188.10,113.10Z" fill="#c3c9d2"/><path d="M199.00,148.50 L199.00,144.90 L195.80,143.50Z" fill="#8c95a3"/><path d="M199.00,148.50 L199.00,144.90 L202.20,143.50Z" fill="#c3c9d2"/><path d="M227.20,155.20 L227.20,151.60 L224.00,150.20Z" fill="#8c95a3"/><path d="M227.20,155.20 L227.20,151.60 L230.40,150.20Z" fill="#c3c9d2"/><path d="M250.70,195.20 L250.70,191.60 L247.50,190.20Z" fill="#8c95a3"/><path d="M250.70,195.20 L250.70,191.60 L253.90,190.20Z" fill="#c3c9d2"/><path d="M354.10,110.80 L354.10,114.40 L350.90,115.80Z" fill="#8c95a3"/><path d="M354.10,110.80 L354.10,114.40 L357.30,115.80Z" fill="#c3c9d2"/><path d="M377.60,192.70 L377.60,189.10 L374.40,187.70Z" fill="#8c95a3"/><path d="M377.60,192.70 L377.60,189.10 L380.80,187.70Z" fill="#c3c9d2"/><path d="M396.40,121.50 L396.40,125.10 L393.20,126.50Z" fill="#8c95a3"/><path d="M396.40,121.50 L396.40,125.10 L399.60,126.50Z" fill="#c3c9d2"/><path d="M405.80,172.70 L405.80,169.10 L402.60,167.70Z" fill="#8c95a3"/><path d="M405.80,172.70 L405.80,169.10 L409.00,167.70Z" fill="#c3c9d2"/><path d="M424.60,121.50 L424.60,125.10 L421.40,126.50Z" fill="#8c95a3"/><path d="M424.60,121.50 L424.60,125.10 L427.80,126.50Z" fill="#c3c9d2"/><path d="M429.30,217.00 L429.30,213.40 L426.10,212.00Z" fill="#8c95a3"/><path d="M429.30,217.00 L429.30,213.40 L432.50,212.00Z" fill="#c3c9d2"/><path d="M448.10,256.20 L448.10,252.60 L444.90,251.20Z" fill="#8c95a3"/><path d="M448.10,256.20 L448.10,252.60 L451.30,251.20Z" fill="#c3c9d2"/><path d="M462.20,104.00 L462.20,107.60 L459.00,109.00Z" fill="#8c95a3"/><path d="M462.20,104.00 L462.20,107.60 L465.40,109.00Z" fill="#c3c9d2"/><path d="M476.30,188.50 L476.30,184.90 L473.10,183.50Z" fill="#8c95a3"/><path d="M476.30,188.50 L476.30,184.90 L479.50,183.50Z" fill="#c3c9d2"/><path d="M513.90,232.70 L513.90,229.10 L510.70,227.70Z" fill="#8c95a3"/><path d="M513.90,232.70 L513.90,229.10 L517.10,227.70Z" fill="#c3c9d2"/><path d="M518.60,170.60 L518.60,174.20 L515.40,175.60Z" fill="#8c95a3"/><path d="M518.60,170.60 L518.60,174.20 L521.80,175.60Z" fill="#c3c9d2"/><path d="M546.80,227.40 L546.80,223.80 L543.60,222.40Z" fill="#8c95a3"/><path d="M546.80,227.40 L546.80,223.80 L550.00,222.40Z" fill="#c3c9d2"/><path d="M575.00,64.30 L575.00,67.90 L571.80,69.30Z" fill="#8c95a3"/><path d="M575.00,64.30 L575.00,67.90 L578.20,69.30Z" fill="#c3c9d2"/><path d="M584.40,121.20 L584.40,117.60 L581.20,116.20Z" fill="#8c95a3"/><path d="M584.40,121.20 L584.40,117.60 L587.60,116.20Z" fill="#c3c9d2"/><path d="M603.20,138.20 L603.20,134.60 L600.00,133.20Z" fill="#8c95a3"/><path d="M603.20,138.20 L603.20,134.60 L606.40,133.20Z" fill="#c3c9d2"/><path d="M622.00,109.60 L622.00,113.20 L618.80,114.60Z" fill="#8c95a3"/><path d="M622.00,109.60 L622.00,113.20 L625.20,114.60Z" fill="#c3c9d2"/><path d="M626.70,158.40 L626.70,154.80 L623.50,153.40Z" fill="#8c95a3"/><path d="M626.70,158.40 L626.70,154.80 L629.90,153.40Z" fill="#c3c9d2"/></g>
<path d="M654.6,79.8 L659.3,84.4 L656.9,84.4 L656.9,90.6 L652.3,90.6 L652.3,84.4 L649.9,84.4 Z" fill="#fff" stroke="#3fd23f" stroke-width="0.8"/>
</g>
<g clip-path="url(#cm2)"><rect x="0.20" y="271.30" width="2.2" height="17.60" fill="#008000"/><rect x="4.90" y="270.80" width="2.2" height="18.10" fill="#008000"/><rect x="9.60" y="270.00" width="2.2" height="18.90" fill="#008000"/><rect x="14.30" y="270.00" width="2.2" height="18.90" fill="#ff0000"/><rect x="19.00" y="270.80" width="2.2" height="18.10" fill="#ff0000"/><rect x="23.70" y="271.10" width="2.2" height="17.80" fill="#ff0000"/><rect x="28.40" y="272.10" width="2.2" height="16.80" fill="#ff0000"/><rect x="33.10" y="272.50" width="2.2" height="16.40" fill="#ff0000"/><rect x="37.80" y="273.60" width="2.2" height="15.30" fill="#ff0000"/><rect x="42.50" y="275.00" width="2.2" height="13.90" fill="#ff0000"/><rect x="47.20" y="275.30" width="2.2" height="13.60" fill="#ff0000"/><rect x="51.90" y="275.90" width="2.2" height="13.00" fill="#ff0000"/><rect x="56.60" y="278.30" width="2.2" height="10.60" fill="#ff0000"/><rect x="61.30" y="280.80" width="2.2" height="8.10" fill="#ff0000"/><rect x="66.00" y="283.80" width="2.2" height="5.10" fill="#ff0000"/><rect x="70.70" y="285.30" width="2.2" height="3.60" fill="#ff0000"/><rect x="75.40" y="286.60" width="2.2" height="2.30" fill="#ff0000"/><rect x="80.10" y="284.90" width="2.2" height="4.00" fill="#008000"/><rect x="84.80" y="282.40" width="2.2" height="6.50" fill="#008000"/><rect x="89.50" y="279.60" width="2.2" height="9.30" fill="#008000"/><rect x="94.20" y="276.90" width="2.2" height="12.00" fill="#008000"/><rect x="98.90" y="276.60" width="2.2" height="12.30" fill="#008000"/><rect x="103.60" y="277.90" width="2.2" height="11.00" fill="#ff0000"/><rect x="108.30" y="280.80" width="2.2" height="8.10" fill="#ff0000"/><rect x="113.00" y="281.60" width="2.2" height="7.30" fill="#ff0000"/><rect x="117.70" y="281.90" width="2.2" height="7.00" fill="#ff0000"/><rect x="122.40" y="279.90" width="2.2" height="9.00" fill="#008000"/><rect x="127.10" y="276.90" width="2.2" height="12.00" fill="#008000"/><rect x="131.80" y="273.00" width="2.2" height="15.90" fill="#008000"/><rect x="136.50" y="270.80" width="2.2" height="18.10" fill="#008000"/><rect x="141.20" y="269.10" width="2.2" height="19.80" fill="#008000"/><rect x="145.90" y="268.30" width="2.2" height="20.60" fill="#008000"/><rect x="150.60" y="267.80" width="2.2" height="21.10" fill="#008000"/><rect x="155.30" y="268.30" width="2.2" height="20.60" fill="#ff0000"/><rect x="160.00" y="268.30" width="2.2" height="20.60" fill="#ff0000"/><rect x="164.70" y="269.60" width="2.2" height="19.30" fill="#ff0000"/><rect x="169.40" y="270.80" width="2.2" height="18.10" fill="#ff0000"/><rect x="174.10" y="272.50" width="2.2" height="16.40" fill="#ff0000"/><rect x="178.80" y="273.60" width="2.2" height="15.30" fill="#ff0000"/><rect x="183.50" y="275.30" width="2.2" height="13.60" fill="#ff0000"/><rect x="188.20" y="276.60" width="2.2" height="12.30" fill="#ff0000"/><rect x="192.90" y="278.30" width="2.2" height="10.60" fill="#ff0000"/><rect x="197.60" y="279.60" width="2.2" height="9.30" fill="#ff0000"/><rect x="202.30" y="279.90" width="2.2" height="9.00" fill="#ff0000"/><rect x="207.00" y="279.90" width="2.2" height="9.00" fill="#008000"/><rect x="211.70" y="279.40" width="2.2" height="9.50" fill="#008000"/><rect x="216.40" y="279.10" width="2.2" height="9.80" fill="#008000"/><rect x="221.10" y="279.10" width="2.2" height="9.80" fill="#ff0000"/><rect x="225.80" y="281.10" width="2.2" height="7.80" fill="#ff0000"/><rect x="230.50" y="284.10" width="2.2" height="4.80" fill="#ff0000"/><rect x="235.20" y="286.30" width="2.2" height="2.60" fill="#ff0000"/><rect x="239.90" y="288.30" width="2.2" height="0.60" fill="#ff0000"/><rect x="244.60" y="288.90" width="2.2" height="1.50" fill="#ff0000"/><rect x="249.30" y="288.90" width="2.2" height="3.50" fill="#ff0000"/><rect x="254.00" y="288.90" width="2.2" height="2.20" fill="#008000"/><rect x="258.70" y="287.90" width="2.2" height="1.00" fill="#008000"/><rect x="263.40" y="281.10" width="2.2" height="7.80" fill="#008000"/><rect x="268.10" y="274.90" width="2.2" height="14.00" fill="#008000"/><rect x="272.80" y="266.60" width="2.2" height="22.30" fill="#008000"/><rect x="277.50" y="260.80" width="2.2" height="28.10" fill="#008000"/><rect x="282.20" y="259.70" width="2.2" height="29.20" fill="#008000"/><rect x="286.90" y="259.50" width="2.2" height="29.40" fill="#ff0000"/><rect x="291.60" y="260.00" width="2.2" height="28.90" fill="#ff0000"/><rect x="296.30" y="262.00" width="2.2" height="26.90" fill="#ff0000"/><rect x="301.00" y="262.50" width="2.2" height="26.40" fill="#ff0000"/><rect x="305.70" y="264.10" width="2.2" height="24.80" fill="#ff0000"/><rect x="310.40" y="267.80" width="2.2" height="21.10" fill="#ff0000"/><rect x="315.10" y="271.10" width="2.2" height="17.80" fill="#ff0000"/><rect x="319.80" y="276.60" width="2.2" height="12.30" fill="#ff0000"/><rect x="324.50" y="282.40" width="2.2" height="6.50" fill="#ff0000"/><rect x="329.20" y="288.90" width="2.2" height="0.50" fill="#ff0000"/><rect x="333.90" y="288.90" width="2.2" height="6.50" fill="#ff0000"/><rect x="338.60" y="288.90" width="2.2" height="12.30" fill="#ff0000"/><rect x="343.30" y="288.90" width="2.2" height="15.50" fill="#ff0000"/><rect x="348.00" y="288.90" width="2.2" height="18.00" fill="#ff0000"/><rect x="352.70" y="288.90" width="2.2" height="19.00" fill="#ff0000"/><rect x="357.40" y="288.90" width="2.2" height="18.00" fill="#008000"/><rect x="362.10" y="288.90" width="2.2" height="16.30" fill="#008000"/><rect x="366.80" y="288.90" width="2.2" height="16.80" fill="#ff0000"/><rect x="371.50" y="288.90" width="2.2" height="16.00" fill="#008000"/><rect x="376.20" y="288.90" width="2.2" height="17.60" fill="#ff0000"/><rect x="380.90" y="288.90" width="2.2" height="18.00" fill="#ff0000"/><rect x="385.60" y="288.90" width="2.2" height="18.60" fill="#ff0000"/><rect x="390.30" y="288.90" width="2.2" height="18.50" fill="#008000"/><rect x="395.00" y="288.90" width="2.2" height="17.30" fill="#008000"/><rect x="399.70" y="288.90" width="2.2" height="16.00" fill="#008000"/><rect x="404.40" y="288.90" width="2.2" height="16.00" fill="#ff0000"/><rect x="409.10" y="288.90" width="2.2" height="15.30" fill="#008000"/><rect x="413.80" y="288.90" width="2.2" height="14.80" fill="#008000"/><rect x="418.50" y="288.90" width="2.2" height="14.30" fill="#008000"/><rect x="423.20" y="288.90" width="2.2" height="12.60" fill="#008000"/><rect x="427.90" y="288.90" width="2.2" height="12.00" fill="#008000"/><rect x="432.60" y="288.90" width="2.2" height="12.60" fill="#ff0000"/><rect x="437.30" y="288.90" width="2.2" height="11.80" fill="#008000"/><rect x="442.00" y="288.90" width="2.2" height="11.30" fill="#008000"/><rect x="446.70" y="288.90" width="2.2" height="13.50" fill="#ff0000"/><rect x="451.40" y="288.90" width="2.2" height="14.60" fill="#ff0000"/><rect x="456.10" y="288.90" width="2.2" height="13.50" fill="#008000"/><rect x="460.80" y="288.90" width="2.2" height="10.10" fill="#008000"/><rect x="465.50" y="288.90" width="2.2" height="7.70" fill="#008000"/><rect x="470.20" y="288.90" width="2.2" height="4.70" fill="#008000"/><rect x="474.90" y="288.90" width="2.2" height="1.30" fill="#008000"/><rect x="479.60" y="288.90" width="2.2" height="0.70" fill="#008000"/><rect x="484.30" y="288.90" width="2.2" height="1.80" fill="#ff0000"/><rect x="489.00" y="288.90" width="2.2" height="4.00" fill="#ff0000"/><rect x="493.70" y="288.90" width="2.2" height="4.70" fill="#ff0000"/><rect x="498.40" y="288.90" width="2.2" height="5.30" fill="#ff0000"/><rect x="503.10" y="288.90" width="2.2" height="6.30" fill="#ff0000"/><rect x="507.80" y="288.90" width="2.2" height="8.00" fill="#ff0000"/><rect x="512.50" y="288.90" width="2.2" height="8.80" fill="#ff0000"/><rect x="517.20" y="288.90" width="2.2" height="8.80" fill="#008000"/><rect x="521.90" y="288.90" width="2.2" height="8.80" fill="#ff0000"/><rect x="526.60" y="288.90" width="2.2" height="8.00" fill="#008000"/><rect x="531.30" y="288.90" width="2.2" height="6.80" fill="#008000"/><rect x="536.00" y="288.90" width="2.2" height="5.20" fill="#008000"/><rect x="540.70" y="288.90" width="2.2" height="3.50" fill="#008000"/><rect x="545.40" y="288.90" width="2.2" height="1.80" fill="#008000"/><rect x="550.10" y="288.00" width="2.2" height="0.90" fill="#008000"/><rect x="554.80" y="285.90" width="2.2" height="3.00" fill="#008000"/><rect x="559.50" y="283.80" width="2.2" height="5.10" fill="#008000"/><rect x="564.20" y="281.10" width="2.2" height="7.80" fill="#008000"/><rect x="568.90" y="275.90" width="2.2" height="13.00" fill="#008000"/><rect x="573.60" y="272.10" width="2.2" height="16.80" fill="#008000"/><rect x="578.30" y="270.00" width="2.2" height="18.90" fill="#008000"/><rect x="583.00" y="268.30" width="2.2" height="20.60" fill="#008000"/><rect x="587.70" y="268.30" width="2.2" height="20.60" fill="#008000"/><rect x="592.40" y="269.60" width="2.2" height="19.30" fill="#ff0000"/><rect x="597.10" y="272.50" width="2.2" height="16.40" fill="#ff0000"/><rect x="601.80" y="275.00" width="2.2" height="13.90" fill="#ff0000"/><rect x="606.50" y="277.10" width="2.2" height="11.80" fill="#ff0000"/><rect x="611.20" y="278.90" width="2.2" height="10.00" fill="#ff0000"/><rect x="615.90" y="280.70" width="2.2" height="8.20" fill="#ff0000"/><rect x="620.60" y="281.20" width="2.2" height="7.70" fill="#ff0000"/><rect x="625.30" y="282.40" width="2.2" height="6.50" fill="#ff0000"/><rect x="630.00" y="282.90" width="2.2" height="6.00" fill="#ff0000"/><rect x="634.70" y="283.70" width="2.2" height="5.20" fill="#ff0000"/><rect x="639.40" y="283.10" width="2.2" height="5.80" fill="#008000"/><rect x="644.10" y="281.20" width="2.2" height="7.70" fill="#008000"/><rect x="0.20" y="341.40" width="2.2" height="3.30" fill="#ff0000"/><rect x="4.90" y="341.90" width="2.2" height="2.80" fill="#ff0000"/><rect x="9.60" y="342.60" width="2.2" height="2.10" fill="#ff0000"/><rect x="14.30" y="343.60" width="2.2" height="1.10" fill="#ff0000"/><rect x="19.00" y="344.40" width="2.2" height="0.60" fill="#ff0000"/><rect x="23.70" y="344.70" width="2.2" height="1.70" fill="#ff0000"/><rect x="28.40" y="344.70" width="2.2" height="2.90" fill="#ff0000"/><rect x="33.10" y="344.70" width="2.2" height="1.70" fill="#008000"/><rect x="37.80" y="344.70" width="2.2" height="3.00" fill="#ff0000"/><rect x="42.50" y="344.70" width="2.2" height="3.40" fill="#ff0000"/><rect x="47.20" y="344.70" width="2.2" height="2.90" fill="#008000"/><rect x="51.90" y="344.70" width="2.2" height="2.90" fill="#ff0000"/><rect x="56.60" y="344.70" width="2.2" height="4.50" fill="#ff0000"/><rect x="61.30" y="344.70" width="2.2" height="7.00" fill="#ff0000"/><rect x="66.00" y="344.70" width="2.2" height="8.90" fill="#ff0000"/><rect x="70.70" y="344.70" width="2.2" height="8.90" fill="#008000"/><rect x="75.40" y="344.70" width="2.2" height="5.90" fill="#008000"/><rect x="80.10" y="344.40" width="2.2" height="0.60" fill="#008000"/><rect x="84.80" y="340.60" width="2.2" height="4.10" fill="#008000"/><rect x="89.50" y="336.90" width="2.2" height="7.80" fill="#008000"/><rect x="94.20" y="335.90" width="2.2" height="8.80" fill="#008000"/><rect x="98.90" y="337.80" width="2.2" height="6.90" fill="#ff0000"/><rect x="103.60" y="343.10" width="2.2" height="1.60" fill="#ff0000"/><rect x="108.30" y="344.70" width="2.2" height="4.20" fill="#ff0000"/><rect x="113.00" y="344.70" width="2.2" height="5.40" fill="#ff0000"/><rect x="117.70" y="344.70" width="2.2" height="4.20" fill="#008000"/><rect x="122.40" y="344.00" width="2.2" height="0.70" fill="#008000"/><rect x="127.10" y="339.30" width="2.2" height="5.40" fill="#008000"/><rect x="131.80" y="334.30" width="2.2" height="10.40" fill="#008000"/><rect x="136.50" y="333.60" width="2.2" height="11.10" fill="#008000"/><rect x="141.20" y="335.30" width="2.2" height="9.40" fill="#ff0000"/><rect x="145.90" y="338.10" width="2.2" height="6.60" fill="#ff0000"/><rect x="150.60" y="341.00" width="2.2" height="3.70" fill="#ff0000"/><rect x="155.30" y="343.60" width="2.2" height="1.10" fill="#ff0000"/><rect x="160.00" y="344.40" width="2.2" height="0.60" fill="#ff0000"/><rect x="164.70" y="344.70" width="2.2" height="1.70" fill="#ff0000"/><rect x="169.40" y="344.70" width="2.2" height="3.00" fill="#ff0000"/><rect x="174.10" y="344.70" width="2.2" height="4.50" fill="#ff0000"/><rect x="178.80" y="344.70" width="2.2" height="5.00" fill="#ff0000"/><rect x="183.50" y="344.70" width="2.2" height="5.00" fill="#ff0000"/><rect x="188.20" y="344.70" width="2.2" height="5.90" fill="#ff0000"/><rect x="192.90" y="344.70" width="2.2" height="5.40" fill="#008000"/><rect x="197.60" y="344.70" width="2.2" height="5.00" fill="#008000"/><rect x="202.30" y="344.70" width="2.2" height="3.40" fill="#008000"/><rect x="207.00" y="344.70" width="2.2" height="1.70" fill="#008000"/><rect x="211.70" y="344.40" width="2.2" height="0.60" fill="#008000"/><rect x="216.40" y="343.40" width="2.2" height="1.30" fill="#008000"/><rect x="221.10" y="344.20" width="2.2" height="0.50" fill="#ff0000"/><rect x="225.80" y="344.70" width="2.2" height="3.00" fill="#ff0000"/><rect x="230.50" y="344.70" width="2.2" height="6.20" fill="#ff0000"/><rect x="235.20" y="344.70" width="2.2" height="7.90" fill="#ff0000"/><rect x="239.90" y="344.70" width="2.2" height="9.70" fill="#ff0000"/><rect x="244.60" y="344.70" width="2.2" height="7.90" fill="#008000"/><rect x="249.30" y="344.70" width="2.2" height="6.20" fill="#008000"/><rect x="254.00" y="344.70" width="2.2" height="1.70" fill="#008000"/><rect x="258.70" y="339.30" width="2.2" height="5.40" fill="#008000"/><rect x="263.40" y="331.10" width="2.2" height="13.60" fill="#008000"/><rect x="268.10" y="324.80" width="2.2" height="19.90" fill="#008000"/><rect x="272.80" y="319.50" width="2.2" height="25.20" fill="#008000"/><rect x="277.50" y="320.20" width="2.2" height="24.50" fill="#ff0000"/><rect x="282.20" y="327.80" width="2.2" height="16.90" fill="#ff0000"/><rect x="286.90" y="335.90" width="2.2" height="8.80" fill="#ff0000"/><rect x="291.60" y="343.30" width="2.2" height="1.40" fill="#ff0000"/><rect x="296.30" y="344.70" width="2.2" height="2.20" fill="#ff0000"/><rect x="301.00" y="344.70" width="2.2" height="3.40" fill="#ff0000"/><rect x="305.70" y="344.70" width="2.2" height="4.70" fill="#ff0000"/><rect x="310.40" y="344.70" width="2.2" height="7.50" fill="#ff0000"/><rect x="315.10" y="344.70" width="2.2" height="10.40" fill="#ff0000"/><rect x="319.80" y="344.70" width="2.2" height="14.50" fill="#ff0000"/><rect x="324.50" y="344.70" width="2.2" height="18.00" fill="#ff0000"/><rect x="329.20" y="344.70" width="2.2" height="21.70" fill="#ff0000"/><rect x="333.90" y="344.70" width="2.2" height="22.80" fill="#ff0000"/><rect x="338.60" y="344.70" width="2.2" height="22.20" fill="#008000"/><rect x="343.30" y="344.70" width="2.2" height="17.50" fill="#008000"/><rect x="348.00" y="344.70" width="2.2" height="14.50" fill="#008000"/><rect x="352.70" y="344.70" width="2.2" height="8.70" fill="#008000"/><rect x="357.40" y="344.70" width="2.2" height="2.80" fill="#008000"/><rect x="362.10" y="343.40" width="2.2" height="1.30" fill="#008000"/><rect x="366.80" y="343.10" width="2.2" height="1.60" fill="#008000"/><rect x="371.50" y="343.10" width="2.2" height="1.60" fill="#008000"/><rect x="376.20" y="344.70" width="2.2" height="0.90" fill="#ff0000"/><rect x="380.90" y="344.70" width="2.2" height="2.20" fill="#ff0000"/><rect x="385.60" y="344.70" width="2.2" height="1.70" fill="#008000"/><rect x="390.30" y="344.70" width="2.2" height="0.90" fill="#008000"/><rect x="395.00" y="343.40" width="2.2" height="1.30" fill="#008000"/><rect x="399.70" y="341.80" width="2.2" height="2.90" fill="#008000"/><rect x="404.40" y="342.30" width="2.2" height="2.40" fill="#ff0000"/><rect x="409.10" y="343.10" width="2.2" height="1.60" fill="#ff0000"/><rect x="413.80" y="342.30" width="2.2" height="2.40" fill="#008000"/><rect x="418.50" y="343.10" width="2.2" height="1.60" fill="#ff0000"/><rect x="423.20" y="340.90" width="2.2" height="3.80" fill="#008000"/><rect x="427.90" y="341.80" width="2.2" height="2.90" fill="#ff0000"/><rect x="432.60" y="343.10" width="2.2" height="1.60" fill="#ff0000"/><rect x="437.30" y="343.10" width="2.2" height="1.60" fill="#ff0000"/><rect x="442.00" y="343.10" width="2.2" height="1.60" fill="#008000"/><rect x="446.70" y="344.70" width="2.2" height="2.00" fill="#ff0000"/><rect x="451.40" y="344.70" width="2.2" height="2.90" fill="#ff0000"/><rect x="456.10" y="344.40" width="2.2" height="0.60" fill="#008000"/><rect x="460.80" y="340.60" width="2.2" height="4.10" fill="#008000"/><rect x="465.50" y="337.80" width="2.2" height="6.90" fill="#008000"/><rect x="470.20" y="334.80" width="2.2" height="9.90" fill="#008000"/><rect x="474.90" y="333.60" width="2.2" height="11.10" fill="#008000"/><rect x="479.60" y="335.90" width="2.2" height="8.80" fill="#ff0000"/><rect x="484.30" y="341.60" width="2.2" height="3.10" fill="#ff0000"/><rect x="489.00" y="344.70" width="2.2" height="2.00" fill="#ff0000"/><rect x="493.70" y="344.70" width="2.2" height="4.20" fill="#ff0000"/><rect x="498.40" y="344.70" width="2.2" height="4.20" fill="#008000"/><rect x="503.10" y="344.70" width="2.2" height="4.20" fill="#008000"/><rect x="507.80" y="344.70" width="2.2" height="4.20" fill="#ff0000"/><rect x="512.50" y="344.70" width="2.2" height="3.90" fill="#008000"/><rect x="517.20" y="344.70" width="2.2" height="2.00" fill="#008000"/><rect x="521.90" y="344.70" width="2.2" height="0.90" fill="#008000"/><rect x="526.60" y="344.40" width="2.2" height="0.60" fill="#008000"/><rect x="531.30" y="342.60" width="2.2" height="2.10" fill="#008000"/><rect x="536.00" y="340.60" width="2.2" height="4.10" fill="#008000"/><rect x="540.70" y="338.90" width="2.2" height="5.80" fill="#008000"/><rect x="545.40" y="338.90" width="2.2" height="5.80" fill="#008000"/><rect x="550.10" y="337.30" width="2.2" height="7.40" fill="#008000"/><rect x="554.80" y="336.40" width="2.2" height="8.30" fill="#008000"/><rect x="559.50" y="335.90" width="2.2" height="8.80" fill="#008000"/><rect x="564.20" y="335.30" width="2.2" height="9.40" fill="#008000"/><rect x="568.90" y="332.00" width="2.2" height="12.70" fill="#008000"/><rect x="573.60" y="331.10" width="2.2" height="13.60" fill="#008000"/><rect x="578.30" y="332.30" width="2.2" height="12.40" fill="#ff0000"/><rect x="583.00" y="335.10" width="2.2" height="9.60" fill="#ff0000"/><rect x="587.70" y="339.40" width="2.2" height="5.30" fill="#ff0000"/><rect x="592.40" y="344.40" width="2.2" height="0.60" fill="#ff0000"/><rect x="597.10" y="344.70" width="2.2" height="4.50" fill="#ff0000"/><rect x="601.80" y="344.70" width="2.2" height="7.50" fill="#ff0000"/><rect x="606.50" y="344.70" width="2.2" height="8.70" fill="#ff0000"/><rect x="611.20" y="344.70" width="2.2" height="7.50" fill="#008000"/><rect x="615.90" y="344.70" width="2.2" height="6.20" fill="#008000"/><rect x="620.60" y="344.70" width="2.2" height="4.50" fill="#008000"/><rect x="625.30" y="344.70" width="2.2" height="3.90" fill="#008000"/><rect x="630.00" y="344.70" width="2.2" height="2.90" fill="#008000"/><rect x="634.70" y="344.70" width="2.2" height="2.00" fill="#008000"/><rect x="639.40" y="344.70" width="2.2" height="0.50" fill="#008000"/><rect x="644.10" y="342.60" width="2.2" height="2.10" fill="#008000"/></g>
<g clip-path="url(#cg)"><rect x="0.20" y="395.00" width="2.2" height="8.20" fill="#008000"/><rect x="0.20" y="403.20" width="2.2" height="13.70" fill="#ff0000"/><rect x="4.90" y="393.90" width="2.2" height="9.30" fill="#008000"/><rect x="4.90" y="403.20" width="2.2" height="14.00" fill="#008000"/><rect x="9.60" y="393.60" width="2.2" height="9.60" fill="#008000"/><rect x="9.60" y="403.20" width="2.2" height="14.80" fill="#008000"/><rect x="14.30" y="392.30" width="2.2" height="10.90" fill="#008000"/><rect x="14.30" y="403.20" width="2.2" height="13.30" fill="#ff0000"/><rect x="19.00" y="391.10" width="2.2" height="12.10" fill="#008000"/><rect x="19.00" y="403.20" width="2.2" height="12.30" fill="#ff0000"/><rect x="23.70" y="390.60" width="2.2" height="12.60" fill="#008000"/><rect x="23.70" y="403.20" width="2.2" height="11.70" fill="#ff0000"/><rect x="28.40" y="391.10" width="2.2" height="12.10" fill="#ff0000"/><rect x="28.40" y="403.20" width="2.2" height="11.20" fill="#ff0000"/><rect x="33.10" y="391.10" width="2.2" height="12.10" fill="#ff0000"/><rect x="33.10" y="403.20" width="2.2" height="10.40" fill="#ff0000"/><rect x="37.80" y="391.10" width="2.2" height="12.10" fill="#008000"/><rect x="37.80" y="403.20" width="2.2" height="7.90" fill="#ff0000"/><rect x="42.50" y="391.90" width="2.2" height="11.30" fill="#ff0000"/><rect x="42.50" y="403.20" width="2.2" height="5.70" fill="#ff0000"/><rect x="47.20" y="393.10" width="2.2" height="10.10" fill="#ff0000"/><rect x="47.20" y="403.20" width="2.2" height="6.70" fill="#008000"/><rect x="51.90" y="393.90" width="2.2" height="9.30" fill="#ff0000"/><rect x="51.90" y="403.20" width="2.2" height="6.70" fill="#ff0000"/><rect x="56.60" y="393.90" width="2.2" height="9.30" fill="#ff0000"/><rect x="56.60" y="403.20" width="2.2" height="4.50" fill="#ff0000"/><rect x="61.30" y="393.90" width="2.2" height="9.30" fill="#ff0000"/><rect x="61.30" y="403.20" width="2.2" height="3.40" fill="#ff0000"/><rect x="66.00" y="395.30" width="2.2" height="7.90" fill="#ff0000"/><rect x="66.00" y="403.20" width="2.2" height="1.70" fill="#ff0000"/><rect x="70.70" y="396.60" width="2.2" height="6.60" fill="#ff0000"/><rect x="70.70" y="403.20" width="2.2" height="0.60" fill="#ff0000"/><rect x="75.40" y="397.80" width="2.2" height="5.40" fill="#ff0000"/><rect x="75.40" y="403.20" width="2.2" height="2.90" fill="#008000"/><rect x="80.10" y="399.40" width="2.2" height="3.80" fill="#ff0000"/><rect x="80.10" y="403.20" width="2.2" height="3.40" fill="#008000"/><rect x="84.80" y="401.10" width="2.2" height="2.10" fill="#ff0000"/><rect x="84.80" y="403.20" width="2.2" height="2.90" fill="#ff0000"/><rect x="89.50" y="402.40" width="2.2" height="0.80" fill="#ff0000"/><rect x="89.50" y="403.20" width="2.2" height="0.50" fill="#ff0000"/><rect x="94.20" y="402.30" width="2.2" height="0.90" fill="#ff0000"/><rect x="94.20" y="403.20" width="2.2" height="4.90" fill="#008000"/><rect x="98.90" y="401.40" width="2.2" height="1.80" fill="#008000"/><rect x="98.90" y="403.20" width="2.2" height="8.70" fill="#008000"/><rect x="103.60" y="398.30" width="2.2" height="4.90" fill="#008000"/><rect x="103.60" y="403.20" width="2.2" height="10.00" fill="#008000"/><rect x="108.30" y="395.30" width="2.2" height="7.90" fill="#008000"/><rect x="108.30" y="403.20" width="2.2" height="10.00" fill="#008000"/><rect x="113.00" y="393.30" width="2.2" height="9.90" fill="#008000"/><rect x="113.00" y="403.20" width="2.2" height="8.70" fill="#ff0000"/><rect x="117.70" y="392.30" width="2.2" height="10.90" fill="#008000"/><rect x="117.70" y="403.20" width="2.2" height="6.70" fill="#ff0000"/><rect x="122.40" y="393.30" width="2.2" height="9.90" fill="#ff0000"/><rect x="122.40" y="403.20" width="2.2" height="3.60" fill="#ff0000"/><rect x="127.10" y="394.10" width="2.2" height="9.10" fill="#ff0000"/><rect x="127.10" y="403.20" width="2.2" height="4.20" fill="#008000"/><rect x="131.80" y="396.60" width="2.2" height="6.60" fill="#ff0000"/><rect x="131.80" y="403.20" width="2.2" height="7.90" fill="#008000"/><rect x="136.50" y="397.30" width="2.2" height="5.90" fill="#ff0000"/><rect x="136.50" y="403.20" width="2.2" height="11.20" fill="#008000"/><rect x="141.20" y="395.30" width="2.2" height="7.90" fill="#008000"/><rect x="141.20" y="403.20" width="2.2" height="14.20" fill="#008000"/><rect x="145.90" y="392.00" width="2.2" height="11.20" fill="#008000"/><rect x="145.90" y="403.20" width="2.2" height="15.30" fill="#008000"/><rect x="150.60" y="389.50" width="2.2" height="13.70" fill="#008000"/><rect x="150.60" y="403.20" width="2.2" height="14.50" fill="#ff0000"/><rect x="155.30" y="387.30" width="2.2" height="15.90" fill="#008000"/><rect x="155.30" y="403.20" width="2.2" height="14.50" fill="#ff0000"/><rect x="160.00" y="387.30" width="2.2" height="15.90" fill="#008000"/><rect x="160.00" y="403.20" width="2.2" height="15.30" fill="#008000"/><rect x="164.70" y="386.60" width="2.2" height="16.60" fill="#008000"/><rect x="164.70" y="403.20" width="2.2" height="14.00" fill="#ff0000"/><rect x="169.40" y="386.10" width="2.2" height="17.10" fill="#008000"/><rect x="169.40" y="403.20" width="2.2" height="13.30" fill="#ff0000"/><rect x="174.10" y="386.10" width="2.2" height="17.10" fill="#008000"/><rect x="174.10" y="403.20" width="2.2" height="11.20" fill="#ff0000"/><rect x="178.80" y="386.60" width="2.2" height="16.60" fill="#ff0000"/><rect x="178.80" y="403.20" width="2.2" height="10.00" fill="#ff0000"/><rect x="183.50" y="387.30" width="2.2" height="15.90" fill="#ff0000"/><rect x="183.50" y="403.20" width="2.2" height="8.40" fill="#ff0000"/><rect x="188.20" y="388.10" width="2.2" height="15.10" fill="#ff0000"/><rect x="188.20" y="403.20" width="2.2" height="7.00" fill="#ff0000"/><rect x="192.90" y="389.00" width="2.2" height="14.20" fill="#ff0000"/><rect x="192.90" y="403.20" width="2.2" height="5.70" fill="#ff0000"/><rect x="197.60" y="390.60" width="2.2" height="12.60" fill="#ff0000"/><rect x="197.60" y="403.20" width="2.2" height="5.00" fill="#ff0000"/><rect x="202.30" y="391.90" width="2.2" height="11.30" fill="#ff0000"/><rect x="202.30" y="403.20" width="2.2" height="3.40" fill="#ff0000"/><rect x="207.00" y="393.10" width="2.2" height="10.10" fill="#ff0000"/><rect x="207.00" y="403.20" width="2.2" height="2.50" fill="#ff0000"/><rect x="211.70" y="393.60" width="2.2" height="9.60" fill="#ff0000"/><rect x="211.70" y="403.20" width="2.2" height="1.20" fill="#ff0000"/><rect x="216.40" y="394.90" width="2.2" height="8.30" fill="#ff0000"/><rect x="216.40" y="403.20" width="2.2" height="2.50" fill="#008000"/><rect x="221.10" y="396.60" width="2.2" height="6.60" fill="#ff0000"/><rect x="221.10" y="403.20" width="2.2" height="5.40" fill="#008000"/><rect x="225.80" y="396.10" width="2.2" height="7.10" fill="#008000"/><rect x="225.80" y="403.20" width="2.2" height="6.20" fill="#008000"/><rect x="230.50" y="394.90" width="2.2" height="8.30" fill="#008000"/><rect x="230.50" y="403.20" width="2.2" height="5.70" fill="#008000"/><rect x="235.20" y="393.60" width="2.2" height="9.60" fill="#008000"/><rect x="235.20" y="403.20" width="2.2" height="3.20" fill="#ff0000"/><rect x="239.90" y="393.60" width="2.2" height="9.60" fill="#008000"/><rect x="239.90" y="403.20" width="2.2" height="1.20" fill="#ff0000"/><rect x="244.60" y="395.30" width="2.2" height="7.90" fill="#ff0000"/><rect x="244.60" y="403.20" width="2.2" height="2.50" fill="#008000"/><rect x="249.30" y="397.80" width="2.2" height="5.40" fill="#ff0000"/><rect x="249.30" y="403.20" width="2.2" height="1.50" fill="#ff0000"/><rect x="254.00" y="399.90" width="2.2" height="3.30" fill="#ff0000"/><rect x="254.00" y="403.20" width="2.2" height="3.20" fill="#008000"/><rect x="258.70" y="400.60" width="2.2" height="2.60" fill="#ff0000"/><rect x="258.70" y="403.20" width="2.2" height="4.50" fill="#008000"/><rect x="263.40" y="401.90" width="2.2" height="1.30" fill="#ff0000"/><rect x="263.40" y="403.20" width="2.2" height="5.70" fill="#008000"/><rect x="268.10" y="402.80" width="2.2" height="0.50" fill="#ff0000"/><rect x="268.10" y="403.20" width="2.2" height="2.40" fill="#ff0000"/><rect x="272.80" y="402.30" width="2.2" height="0.90" fill="#008000"/><rect x="272.80" y="403.20" width="2.2" height="9.50" fill="#008000"/><rect x="277.50" y="403.00" width="2.2" height="0.50" fill="#008000"/><rect x="277.50" y="403.20" width="2.2" height="21.80" fill="#008000"/><rect x="282.20" y="397.00" width="2.2" height="6.20" fill="#008000"/><rect x="282.20" y="403.20" width="2.2" height="21.80" fill="#008000"/><rect x="286.90" y="388.60" width="2.2" height="14.60" fill="#008000"/><rect x="286.90" y="403.20" width="2.2" height="21.80" fill="#008000"/><rect x="291.60" y="383.60" width="2.2" height="19.60" fill="#008000"/><rect x="291.60" y="403.20" width="2.2" height="21.80" fill="#008000"/><rect x="296.30" y="380.60" width="2.2" height="22.60" fill="#008000"/><rect x="296.30" y="403.20" width="2.2" height="21.80" fill="#ff0000"/><rect x="301.00" y="379.50" width="2.2" height="23.70" fill="#008000"/><rect x="301.00" y="403.20" width="2.2" height="21.80" fill="#ff0000"/><rect x="305.70" y="379.50" width="2.2" height="23.70" fill="#008000"/><rect x="305.70" y="403.20" width="2.2" height="21.80" fill="#ff0000"/><rect x="310.40" y="379.50" width="2.2" height="23.70" fill="#ff0000"/><rect x="310.40" y="403.20" width="2.2" height="21.80" fill="#ff0000"/><rect x="315.10" y="380.60" width="2.2" height="22.60" fill="#ff0000"/><rect x="315.10" y="403.20" width="2.2" height="21.80" fill="#ff0000"/><rect x="319.80" y="381.10" width="2.2" height="22.10" fill="#ff0000"/><rect x="319.80" y="403.20" width="2.2" height="14.50" fill="#ff0000"/><rect x="324.50" y="382.00" width="2.2" height="21.20" fill="#ff0000"/><rect x="324.50" y="403.20" width="2.2" height="8.70" fill="#ff0000"/><rect x="329.20" y="383.60" width="2.2" height="19.60" fill="#ff0000"/><rect x="329.20" y="403.20" width="2.2" height="3.20" fill="#ff0000"/><rect x="333.90" y="386.60" width="2.2" height="16.60" fill="#ff0000"/><rect x="333.90" y="403.20" width="2.2" height="3.20" fill="#008000"/><rect x="338.60" y="391.10" width="2.2" height="12.10" fill="#ff0000"/><rect x="338.60" y="403.20" width="2.2" height="7.40" fill="#008000"/><rect x="343.30" y="396.60" width="2.2" height="6.60" fill="#ff0000"/><rect x="343.30" y="403.20" width="2.2" height="12.30" fill="#008000"/><rect x="348.00" y="400.60" width="2.2" height="2.60" fill="#ff0000"/><rect x="348.00" y="403.20" width="2.2" height="21.80" fill="#008000"/><rect x="352.70" y="402.30" width="2.2" height="0.90" fill="#ff0000"/><rect x="352.70" y="403.20" width="2.2" height="21.80" fill="#008000"/><rect x="357.40" y="397.80" width="2.2" height="5.40" fill="#008000"/><rect x="357.40" y="403.20" width="2.2" height="21.80" fill="#ff0000"/><rect x="362.10" y="393.30" width="2.2" height="9.90" fill="#008000"/><rect x="362.10" y="403.20" width="2.2" height="21.80" fill="#ff0000"/><rect x="366.80" y="392.30" width="2.2" height="10.90" fill="#008000"/><rect x="366.80" y="403.20" width="2.2" height="18.80" fill="#ff0000"/><rect x="371.50" y="391.40" width="2.2" height="11.80" fill="#008000"/><rect x="371.50" y="403.20" width="2.2" height="13.30" fill="#ff0000"/><rect x="376.20" y="391.90" width="2.2" height="11.30" fill="#ff0000"/><rect x="376.20" y="403.20" width="2.2" height="13.30" fill="#ff0000"/><rect x="380.90" y="392.30" width="2.2" height="10.90" fill="#ff0000"/><rect x="380.90" y="403.20" width="2.2" height="13.30" fill="#008000"/><rect x="385.60" y="392.30" width="2.2" height="10.90" fill="#ff0000"/><rect x="385.60" y="403.20" width="2.2" height="13.30" fill="#ff0000"/><rect x="390.30" y="391.90" width="2.2" height="11.30" fill="#008000"/><rect x="390.30" y="403.20" width="2.2" height="14.00" fill="#008000"/><rect x="395.00" y="391.40" width="2.2" height="11.80" fill="#008000"/><rect x="395.00" y="403.20" width="2.2" height="12.30" fill="#ff0000"/><rect x="399.70" y="390.30" width="2.2" height="12.90" fill="#008000"/><rect x="399.70" y="403.20" width="2.2" height="9.50" fill="#ff0000"/><rect x="404.40" y="390.80" width="2.2" height="12.40" fill="#ff0000"/><rect x="404.40" y="403.20" width="2.2" height="8.40" fill="#ff0000"/><rect x="409.10" y="391.40" width="2.2" height="11.80" fill="#ff0000"/><rect x="409.10" y="403.20" width="2.2" height="7.00" fill="#ff0000"/><rect x="413.80" y="392.30" width="2.2" height="10.90" fill="#ff0000"/><rect x="413.80" y="403.20" width="2.2" height="5.70" fill="#ff0000"/><rect x="418.50" y="393.60" width="2.2" height="9.60" fill="#ff0000"/><rect x="418.50" y="403.20" width="2.2" height="5.70" fill="#008000"/><rect x="423.20" y="394.10" width="2.2" height="9.10" fill="#ff0000"/><rect x="423.20" y="403.20" width="2.2" height="4.50" fill="#ff0000"/><rect x="427.90" y="394.90" width="2.2" height="8.30" fill="#ff0000"/><rect x="427.90" y="403.20" width="2.2" height="3.70" fill="#ff0000"/><rect x="432.60" y="395.30" width="2.2" height="7.90" fill="#ff0000"/><rect x="432.60" y="403.20" width="2.2" height="3.70" fill="#ff0000"/><rect x="437.30" y="396.10" width="2.2" height="7.10" fill="#ff0000"/><rect x="437.30" y="403.20" width="2.2" height="2.50" fill="#ff0000"/><rect x="442.00" y="396.90" width="2.2" height="6.30" fill="#ff0000"/><rect x="442.00" y="403.20" width="2.2" height="4.50" fill="#008000"/><rect x="446.70" y="397.80" width="2.2" height="5.40" fill="#ff0000"/><rect x="446.70" y="403.20" width="2.2" height="7.00" fill="#008000"/><rect x="451.40" y="396.10" width="2.2" height="7.10" fill="#008000"/><rect x="451.40" y="403.20" width="2.2" height="5.70" fill="#ff0000"/><rect x="456.10" y="395.30" width="2.2" height="7.90" fill="#008000"/><rect x="456.10" y="403.20" width="2.2" height="4.50" fill="#ff0000"/><rect x="460.80" y="394.80" width="2.2" height="8.40" fill="#008000"/><rect x="460.80" y="403.20" width="2.2" height="8.70" fill="#008000"/><rect x="465.50" y="395.30" width="2.2" height="7.90" fill="#ff0000"/><rect x="465.50" y="403.20" width="2.2" height="12.80" fill="#008000"/><rect x="470.20" y="393.30" width="2.2" height="9.90" fill="#008000"/><rect x="470.20" y="403.20" width="2.2" height="10.00" fill="#ff0000"/><rect x="474.90" y="390.80" width="2.2" height="12.40" fill="#008000"/><rect x="474.90" y="403.20" width="2.2" height="1.70" fill="#ff0000"/><rect x="479.60" y="390.80" width="2.2" height="12.40" fill="#008000"/><rect x="479.60" y="403.20" width="2.2" height="2.40" fill="#008000"/><rect x="484.30" y="395.30" width="2.2" height="7.90" fill="#ff0000"/><rect x="484.30" y="403.20" width="2.2" height="0.60" fill="#ff0000"/><rect x="489.00" y="399.10" width="2.2" height="4.10" fill="#ff0000"/><rect x="489.00" y="403.20" width="2.2" height="3.20" fill="#008000"/><rect x="493.70" y="399.90" width="2.2" height="3.30" fill="#ff0000"/><rect x="493.70" y="403.20" width="2.2" height="3.20" fill="#ff0000"/><rect x="498.40" y="398.30" width="2.2" height="4.90" fill="#008000"/><rect x="498.40" y="403.20" width="2.2" height="3.20" fill="#ff0000"/><rect x="503.10" y="397.80" width="2.2" height="5.40" fill="#008000"/><rect x="503.10" y="403.20" width="2.2" height="3.70" fill="#008000"/><rect x="507.80" y="397.80" width="2.2" height="5.40" fill="#008000"/><rect x="507.80" y="403.20" width="2.2" height="4.50" fill="#008000"/><rect x="512.50" y="397.80" width="2.2" height="5.40" fill="#008000"/><rect x="512.50" y="403.20" width="2.2" height="5.70" fill="#008000"/><rect x="517.20" y="396.60" width="2.2" height="6.60" fill="#008000"/><rect x="517.20" y="403.20" width="2.2" height="6.20" fill="#008000"/><rect x="521.90" y="396.10" width="2.2" height="7.10" fill="#008000"/><rect x="521.90" y="403.20" width="2.2" height="7.00" fill="#008000"/><rect x="526.60" y="395.30" width="2.2" height="7.90" fill="#008000"/><rect x="526.60" y="403.20" width="2.2" height="7.50" fill="#008000"/><rect x="531.30" y="394.90" width="2.2" height="8.30" fill="#008000"/><rect x="531.30" y="403.20" width="2.2" height="6.50" fill="#ff0000"/><rect x="536.00" y="394.10" width="2.2" height="9.10" fill="#008000"/><rect x="536.00" y="403.20" width="2.2" height="5.70" fill="#ff0000"/><rect x="540.70" y="394.90" width="2.2" height="8.30" fill="#ff0000"/><rect x="540.70" y="403.20" width="2.2" height="5.00" fill="#ff0000"/><rect x="545.40" y="394.90" width="2.2" height="8.30" fill="#ff0000"/><rect x="545.40" y="403.20" width="2.2" height="2.90" fill="#ff0000"/><rect x="550.10" y="396.10" width="2.2" height="7.10" fill="#ff0000"/><rect x="550.10" y="403.20" width="2.2" height="0.60" fill="#ff0000"/><rect x="554.80" y="397.30" width="2.2" height="5.90" fill="#ff0000"/><rect x="554.80" y="403.20" width="2.2" height="1.20" fill="#008000"/><rect x="559.50" y="399.10" width="2.2" height="4.10" fill="#ff0000"/><rect x="559.50" y="403.20" width="2.2" height="0.80" fill="#008000"/><rect x="564.20" y="400.60" width="2.2" height="2.60" fill="#ff0000"/><rect x="564.20" y="403.20" width="2.2" height="3.70" fill="#008000"/><rect x="568.90" y="400.60" width="2.2" height="2.60" fill="#ff0000"/><rect x="568.90" y="403.20" width="2.2" height="7.40" fill="#008000"/><rect x="573.60" y="402.80" width="2.2" height="0.50" fill="#ff0000"/><rect x="573.60" y="403.20" width="2.2" height="8.70" fill="#008000"/><rect x="578.30" y="402.30" width="2.2" height="0.90" fill="#008000"/><rect x="578.30" y="403.20" width="2.2" height="10.40" fill="#008000"/><rect x="583.00" y="399.40" width="2.2" height="3.80" fill="#008000"/><rect x="583.00" y="403.20" width="2.2" height="14.00" fill="#008000"/><rect x="587.70" y="397.80" width="2.2" height="5.40" fill="#008000"/><rect x="587.70" y="403.20" width="2.2" height="21.80" fill="#008000"/><rect x="592.40" y="393.90" width="2.2" height="9.30" fill="#008000"/><rect x="592.40" y="403.20" width="2.2" height="16.70" fill="#ff0000"/><rect x="597.10" y="391.10" width="2.2" height="12.10" fill="#008000"/><rect x="597.10" y="403.20" width="2.2" height="14.50" fill="#ff0000"/><rect x="601.80" y="389.50" width="2.2" height="13.70" fill="#008000"/><rect x="601.80" y="403.20" width="2.2" height="11.70" fill="#ff0000"/><rect x="606.50" y="390.30" width="2.2" height="12.90" fill="#ff0000"/><rect x="606.50" y="403.20" width="2.2" height="9.50" fill="#ff0000"/><rect x="611.20" y="391.40" width="2.2" height="11.80" fill="#ff0000"/><rect x="611.20" y="403.20" width="2.2" height="8.40" fill="#ff0000"/><rect x="615.90" y="392.40" width="2.2" height="10.80" fill="#ff0000"/><rect x="615.90" y="403.20" width="2.2" height="5.40" fill="#ff0000"/><rect x="620.60" y="394.40" width="2.2" height="8.80" fill="#ff0000"/><rect x="620.60" y="403.20" width="2.2" height="4.00" fill="#ff0000"/><rect x="625.30" y="395.60" width="2.2" height="7.60" fill="#ff0000"/><rect x="625.30" y="403.20" width="2.2" height="3.40" fill="#ff0000"/><rect x="630.00" y="397.40" width="2.2" height="5.80" fill="#ff0000"/><rect x="630.00" y="403.20" width="2.2" height="2.90" fill="#ff0000"/><rect x="634.70" y="398.10" width="2.2" height="5.10" fill="#ff0000"/><rect x="634.70" y="403.20" width="2.2" height="1.20" fill="#ff0000"/><rect x="639.40" y="398.60" width="2.2" height="4.60" fill="#ff0000"/><rect x="639.40" y="403.20" width="2.2" height="0.70" fill="#ff0000"/><rect x="644.10" y="399.10" width="2.2" height="4.10" fill="#ff0000"/><rect x="644.10" y="403.20" width="2.2" height="0.50" fill="#ff0000"/><rect x="648.80" y="400.60" width="2.2" height="2.60" fill="#ff0000"/><rect x="648.80" y="403.20" width="2.2" height="1.50" fill="#008000"/><rect x="653.50" y="401.10" width="2.2" height="2.10" fill="#ff0000"/><rect x="653.50" y="403.20" width="2.2" height="3.20" fill="#008000"/><rect x="658.20" y="400.80" width="2.2" height="2.40" fill="#008000"/><rect x="658.20" y="403.20" width="2.2" height="5.40" fill="#008000"/><rect x="662.90" y="399.10" width="2.2" height="4.10" fill="#008000"/><rect x="667.60" y="397.80" width="2.2" height="5.40" fill="#008000"/></g>
<rect x="1" y="0" width="1.05" height="420" fill="#5a5a5a"/>
<rect x="1" y="253.0" width="720.40" height="1.8" fill="#5a5a5a"/>
<rect x="1" y="313.0" width="720.40" height="1.8" fill="#5a5a5a"/>
<rect x="1" y="373.0" width="720.40" height="1.8" fill="#5a5a5a"/>
<line x1="721.4" y1="0" x2="721.4" y2="420" stroke="#707070" stroke-width="0.8"/>
<g stroke="#222" stroke-width="0.8"><line x1="721.4" y1="8.65" x2="723.60" y2="8.65"/><line x1="721.4" y1="27.47" x2="723.60" y2="27.47"/><line x1="721.4" y1="46.28" x2="723.60" y2="46.28"/><line x1="721.4" y1="65.10" x2="723.60" y2="65.10"/><line x1="721.4" y1="83.91" x2="723.60" y2="83.91"/><line x1="721.4" y1="102.73" x2="723.60" y2="102.73"/><line x1="721.4" y1="121.54" x2="723.60" y2="121.54"/><line x1="721.4" y1="140.36" x2="723.60" y2="140.36"/><line x1="721.4" y1="159.17" x2="723.60" y2="159.17"/><line x1="721.4" y1="177.99" x2="723.60" y2="177.99"/><line x1="721.4" y1="196.80" x2="723.60" y2="196.80"/><line x1="721.4" y1="215.62" x2="723.60" y2="215.62"/><line x1="721.4" y1="234.43" x2="723.60" y2="234.43"/><line x1="721.4" y1="255.20" x2="723.60" y2="255.20"/><line x1="721.4" y1="314.90" x2="723.60" y2="314.90"/><line x1="721.4" y1="374.80" x2="723.60" y2="374.80"/></g>
<g font-family="Liberation Sans, sans-serif" font-size="5.4" fill="#000"><text x="724" y="10.55">5981.60</text><text x="724" y="29.37">5970.80</text><text x="724" y="48.18">5960.00</text><text x="724" y="67.00">5949.20</text><text x="724" y="85.81">5938.40</text><text x="724" y="104.63">5927.60</text><text x="724" y="123.44">5916.80</text><text x="724" y="142.26">5906.00</text><text x="724" y="161.07">5895.20</text><text x="724" y="179.89">5884.40</text><text x="724" y="198.70">5873.60</text><text x="724" y="217.52">5862.80</text><text x="724" y="236.33">5852.00</text><text x="724" y="259.80">65.618</text><text x="724" y="290.90">0.000</text><text x="724" y="312.10">-46.413</text><text x="724" y="319.70">31.5538</text><text x="724" y="346.60">0.0000</text><text x="724" y="371.60">-29.2151</text><text x="724" y="379.70">32.202</text><text x="724" y="405.10">0.000</text></g>
<rect x="722.4" y="91.8" width="23.4" height="6" fill="#e00000"/>
<text x="724" y="96.6" font-family="Liberation Sans, sans-serif" font-size="5.4" fill="#fff">5931.88</text>
<g font-family="Liberation Sans, sans-serif" font-size="5.4" fill="#000" stroke="#000" stroke-width="0.12"><text x="3.4" y="262">AOcust 13.769</text><text x="3.4" y="322">ACcust 2.1033</text><text x="3.4" y="381.6">GatorCust 6.892 -5.640</text></g>
</svg>
</body></html>
